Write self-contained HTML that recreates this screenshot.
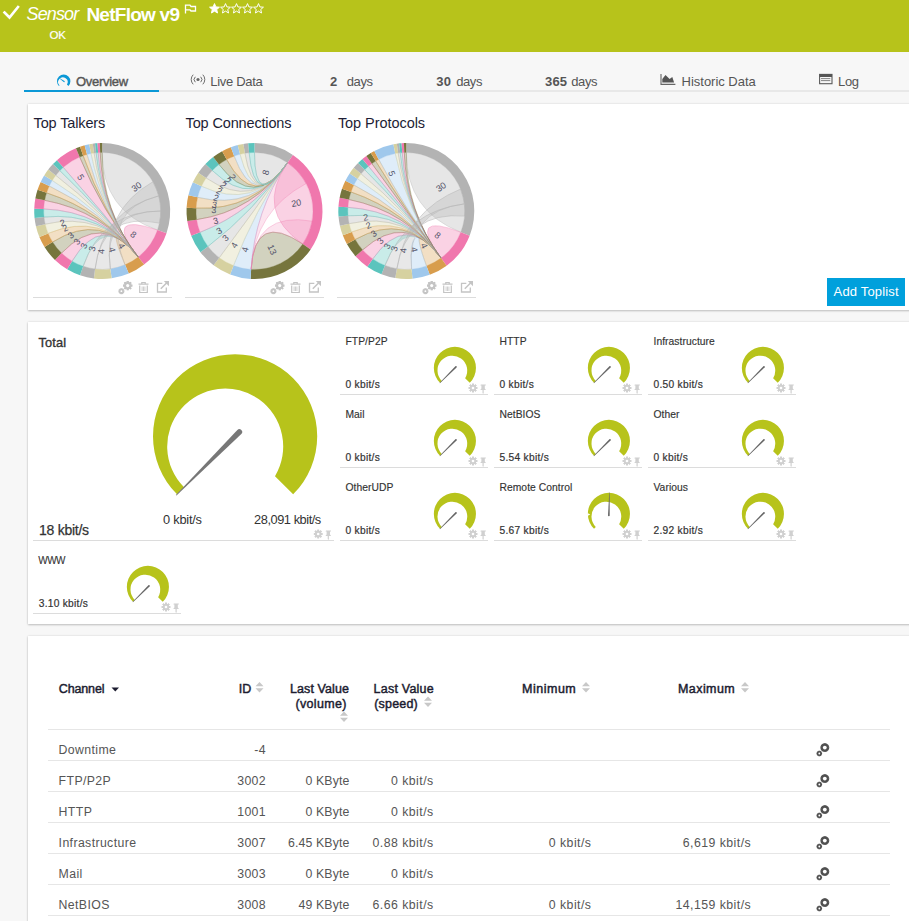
<!DOCTYPE html><html><head><meta charset="utf-8"><style>
html,body{margin:0;padding:0;width:909px;height:921px;overflow:hidden;background:#f7f7f7}
body{position:relative;font-family:"Liberation Sans",sans-serif}
.t{position:absolute;white-space:nowrap;line-height:1}
</style></head><body>
<div style="position:absolute;left:0px;top:0px;width:909px;height:52px;background:#b7c31b"></div>
<svg style="position:absolute;left:0;top:0" width="909" height="51"><path d="M4.5 12.5 L9.5 17.5 L18 7" fill="none" stroke="#fff" stroke-width="2.6" stroke-linecap="square"/></svg>
<div class="t" style="left:26.60px;top:5.46px;font-size:18px;font-weight:400;color:#fff;font-style:italic;letter-spacing:-0.900px;">Sensor</div>
<div class="t" style="left:86.40px;top:5.02px;font-size:19px;font-weight:700;color:#fff;font-style:normal;letter-spacing:-0.744px;">NetFlow v9</div>
<svg style="position:absolute;left:184px;top:4px" width="14" height="10"><path d="M1.5 0.5 V9.5 M1.5 1.2 H6 L7 2.5 H11.5 V7 H7 L6 5.8 H1.5" fill="none" stroke="#fff" stroke-width="1.3"/></svg>
<svg style="position:absolute;left:0;top:0" width="300" height="20"><polygon points="214.50,3.60 213.12,6.91 209.55,7.19 212.27,9.52 211.44,13.01 214.50,11.14 217.56,13.01 216.73,9.52 219.45,7.19 215.88,6.91" fill="#fff" stroke="#fff" stroke-width="1"/><polygon points="225.50,3.60 224.12,6.91 220.55,7.19 223.27,9.52 222.44,13.01 225.50,11.14 228.56,13.01 227.73,9.52 230.45,7.19 226.88,6.91" fill="none" stroke="#fff" stroke-width="1"/><polygon points="236.50,3.60 235.12,6.91 231.55,7.19 234.27,9.52 233.44,13.01 236.50,11.14 239.56,13.01 238.73,9.52 241.45,7.19 237.88,6.91" fill="none" stroke="#fff" stroke-width="1"/><polygon points="247.50,3.60 246.12,6.91 242.55,7.19 245.27,9.52 244.44,13.01 247.50,11.14 250.56,13.01 249.73,9.52 252.45,7.19 248.88,6.91" fill="none" stroke="#fff" stroke-width="1"/><polygon points="258.50,3.60 257.12,6.91 253.55,7.19 256.27,9.52 255.44,13.01 258.50,11.14 261.56,13.01 260.73,9.52 263.45,7.19 259.88,6.91" fill="none" stroke="#fff" stroke-width="1"/></svg>
<div class="t" style="left:49.40px;top:29.77px;font-size:11.5px;font-weight:400;color:#fff;font-style:normal;-webkit-text-stroke:0.2px #fff;">OK</div>
<div style="position:absolute;left:0px;top:52px;width:909px;height:869px;background:#f7f7f7"></div>
<div style="position:absolute;left:24px;top:90px;width:885px;height:2px;background:#e8e8e8"></div>
<div style="position:absolute;left:24px;top:90px;width:135px;height:2px;background:#0b98d6"></div>
<div class="t" style="left:76.00px;top:75.10px;font-size:13px;font-weight:400;color:#555;font-style:normal;letter-spacing:-0.293px;-webkit-text-stroke:0.4px #555;">Overview</div>
<div class="t" style="left:210.30px;top:75.10px;font-size:13px;font-weight:400;color:#555;font-style:normal;letter-spacing:-0.306px;">Live Data</div>
<div class="t" style="left:330.00px;top:75.10px;font-size:13px;font-weight:700;color:#555;font-style:normal;">2</div>
<div class="t" style="left:346.80px;top:75.10px;font-size:13px;font-weight:400;color:#555;font-style:normal;letter-spacing:-0.417px;">days</div>
<div class="t" style="left:436.20px;top:75.10px;font-size:13px;font-weight:700;color:#555;font-style:normal;letter-spacing:0.350px;">30</div>
<div class="t" style="left:456.20px;top:75.10px;font-size:13px;font-weight:400;color:#555;font-style:normal;letter-spacing:-0.417px;">days</div>
<div class="t" style="left:545.00px;top:75.10px;font-size:13px;font-weight:700;color:#555;font-style:normal;letter-spacing:0.150px;">365</div>
<div class="t" style="left:571.30px;top:75.10px;font-size:13px;font-weight:400;color:#555;font-style:normal;letter-spacing:-0.417px;">days</div>
<div class="t" style="left:681.60px;top:75.10px;font-size:13px;font-weight:400;color:#555;font-style:normal;letter-spacing:-0.021px;">Historic Data</div>
<div class="t" style="left:838.00px;top:75.10px;font-size:13px;font-weight:400;color:#555;font-style:normal;letter-spacing:-0.350px;">Log</div>
<svg style="position:absolute;left:0;top:60px" width="909" height="30"><circle cx="198" cy="19.5" r="1.6" fill="#666"/><path d="M195.3 16.8 A3.8 3.8 0 0 0 195.3 22.2 M200.7 16.8 A3.8 3.8 0 0 1 200.7 22.2" fill="none" stroke="#666" stroke-width="0.95"/><path d="M193.2 14.7 A6.8 6.8 0 0 0 193.2 24.3 M202.8 14.7 A6.8 6.8 0 0 1 202.8 24.3" fill="none" stroke="#666" stroke-width="0.95"/><path d="M661 13.9 V24.4 H675.4" fill="none" stroke="#666" stroke-width="1.1"/><path d="M662.3 22.6 V19 L665.5 15.1 L669.6 19 L672.3 17.1 L674.1 22.6 Z" fill="#555"/><rect x="819.6" y="14.4" width="12.4" height="9.3" fill="none" stroke="#5a5a5a" stroke-width="1.1"/><rect x="819.6" y="14" width="12.4" height="3" fill="#555"/><path d="M821 18.6 H830.3 M821 20.6 H830.3" stroke="#777" stroke-width="0.9"/></svg>
<div style="position:absolute;left:28px;top:104px;width:900px;height:206px;background:#fff;box-shadow:0 1px 2px rgba(0,0,0,0.2),0 0 2px rgba(0,0,0,0.12);"></div>
<div style="position:absolute;left:28px;top:322px;width:900px;height:302px;background:#fff;box-shadow:0 1px 2px rgba(0,0,0,0.2),0 0 2px rgba(0,0,0,0.12);"></div>
<div style="position:absolute;left:28px;top:636px;width:900px;height:400px;background:#fff;box-shadow:0 1px 2px rgba(0,0,0,0.2),0 0 2px rgba(0,0,0,0.12);"></div>
<svg style="position:absolute;left:0;top:0" width="909" height="320"><path d="M102.20,152.50 A58.5,58.5 0 0 1 157.51,230.05 Q102.2,211 102.20,152.50Z" fill="#b3b3b3" fill-opacity="0.33" stroke="#b3b3b3" stroke-opacity="0.55" stroke-width="0.6"/><path d="M157.51,230.05 A58.5,58.5 0 0 1 138.22,257.10 Q102.2,211 157.51,230.05Z" fill="#f077ad" fill-opacity="0.33" stroke="#f077ad" stroke-opacity="0.55" stroke-width="0.6"/><path d="M138.22,257.10 A58.5,58.5 0 0 1 125.06,264.85 Q102.2,211 138.22,257.10Z" fill="#d89d4d" fill-opacity="0.33" stroke="#d89d4d" stroke-opacity="0.55" stroke-width="0.6"/><path d="M83.15,266.31 A58.5,58.5 0 0 1 72.07,261.14 Q102.2,211 138.22,257.10 Q102.2,211 83.15,266.31Z" fill="#5bc4bd" fill-opacity="0.33" stroke="#5bc4bd" stroke-opacity="0.55" stroke-width="0.6"/><path d="M72.07,261.14 A58.5,58.5 0 0 1 61.56,253.08 Q102.2,211 138.22,257.10 Q102.2,211 72.07,261.14Z" fill="#f077ad" fill-opacity="0.33" stroke="#f077ad" stroke-opacity="0.55" stroke-width="0.6"/><path d="M61.56,253.08 A58.5,58.5 0 0 1 52.59,242.00 Q102.2,211 138.22,257.10 Q102.2,211 61.56,253.08Z" fill="#76753d" fill-opacity="0.33" stroke="#76753d" stroke-opacity="0.55" stroke-width="0.6"/><path d="M52.59,242.00 A58.5,58.5 0 0 1 48.15,233.39 Q102.2,211 138.22,257.10 Q102.2,211 52.59,242.00Z" fill="#d89d4d" fill-opacity="0.33" stroke="#d89d4d" stroke-opacity="0.55" stroke-width="0.6"/><path d="M48.15,233.39 A58.5,58.5 0 0 1 45.20,224.16 Q102.2,211 138.22,257.10 Q102.2,211 48.15,233.39Z" fill="#d6d1a0" fill-opacity="0.33" stroke="#d6d1a0" stroke-opacity="0.55" stroke-width="0.6"/><path d="M45.20,224.16 A58.5,58.5 0 0 1 44.02,217.11 Q102.2,211 138.22,257.10 Q102.2,211 45.20,224.16Z" fill="#b3b3b3" fill-opacity="0.33" stroke="#b3b3b3" stroke-opacity="0.55" stroke-width="0.6"/><path d="M44.02,217.11 A58.5,58.5 0 0 1 43.74,208.96 Q102.2,211 138.22,257.10 Q102.2,211 44.02,217.11Z" fill="#5bc4bd" fill-opacity="0.33" stroke="#5bc4bd" stroke-opacity="0.55" stroke-width="0.6"/><path d="M43.74,208.96 A58.5,58.5 0 0 1 44.68,200.34 Q102.2,211 138.22,257.10 Q102.2,211 43.74,208.96Z" fill="#f077ad" fill-opacity="0.33" stroke="#f077ad" stroke-opacity="0.55" stroke-width="0.6"/><path d="M44.68,200.34 A58.5,58.5 0 0 1 46.59,192.83 Q102.2,211 138.22,257.10 Q102.2,211 44.68,200.34Z" fill="#76753d" fill-opacity="0.33" stroke="#76753d" stroke-opacity="0.55" stroke-width="0.6"/><path d="M46.59,192.83 A58.5,58.5 0 0 1 49.31,186.00 Q102.2,211 138.22,257.10 Q102.2,211 46.59,192.83Z" fill="#d89d4d" fill-opacity="0.33" stroke="#d89d4d" stroke-opacity="0.55" stroke-width="0.6"/><path d="M49.31,186.00 A58.5,58.5 0 0 1 52.27,180.52 Q102.2,211 138.22,257.10 Q102.2,211 49.31,186.00Z" fill="#9fc8ec" fill-opacity="0.33" stroke="#9fc8ec" stroke-opacity="0.55" stroke-width="0.6"/><path d="M52.27,180.52 A58.5,58.5 0 0 1 55.79,175.39 Q102.2,211 138.22,257.10 Q102.2,211 52.27,180.52Z" fill="#d6d1a0" fill-opacity="0.33" stroke="#d6d1a0" stroke-opacity="0.55" stroke-width="0.6"/><path d="M55.79,175.39 A58.5,58.5 0 0 1 59.84,170.66 Q102.2,211 138.22,257.10 Q102.2,211 55.79,175.39Z" fill="#b3b3b3" fill-opacity="0.33" stroke="#b3b3b3" stroke-opacity="0.55" stroke-width="0.6"/><path d="M59.84,170.66 A58.5,58.5 0 0 1 63.28,167.32 Q102.2,211 138.22,257.10 Q102.2,211 59.84,170.66Z" fill="#5bc4bd" fill-opacity="0.33" stroke="#5bc4bd" stroke-opacity="0.55" stroke-width="0.6"/><path d="M63.28,167.32 A58.5,58.5 0 0 1 79.62,157.03 Q102.2,211 138.22,257.10 Q102.2,211 63.28,167.32Z" fill="#f077ad" fill-opacity="0.33" stroke="#f077ad" stroke-opacity="0.55" stroke-width="0.6"/><path d="M79.62,157.03 A58.5,58.5 0 0 1 83.15,155.69 Q102.2,211 138.22,257.10 Q102.2,211 79.62,157.03Z" fill="#76753d" fill-opacity="0.33" stroke="#76753d" stroke-opacity="0.55" stroke-width="0.6"/><path d="M83.15,155.69 A58.5,58.5 0 0 1 87.06,154.49 Q102.2,211 138.22,257.10 Q102.2,211 83.15,155.69Z" fill="#d89d4d" fill-opacity="0.33" stroke="#d89d4d" stroke-opacity="0.55" stroke-width="0.6"/><path d="M87.06,154.49 A58.5,58.5 0 0 1 91.04,153.57 Q102.2,211 138.22,257.10 Q102.2,211 87.06,154.49Z" fill="#9fc8ec" fill-opacity="0.33" stroke="#9fc8ec" stroke-opacity="0.55" stroke-width="0.6"/><path d="M91.04,153.57 A58.5,58.5 0 0 1 94.06,153.07 Q102.2,211 138.22,257.10 Q102.2,211 91.04,153.57Z" fill="#d6d1a0" fill-opacity="0.33" stroke="#d6d1a0" stroke-opacity="0.55" stroke-width="0.6"/><path d="M94.06,153.07 A58.5,58.5 0 0 1 96.09,152.82 Q102.2,211 138.22,257.10 Q102.2,211 94.06,153.07Z" fill="#b3b3b3" fill-opacity="0.33" stroke="#b3b3b3" stroke-opacity="0.55" stroke-width="0.6"/><path d="M96.09,152.82 A58.5,58.5 0 0 1 98.12,152.64 Q102.2,211 138.22,257.10 Q102.2,211 96.09,152.82Z" fill="#5bc4bd" fill-opacity="0.33" stroke="#5bc4bd" stroke-opacity="0.55" stroke-width="0.6"/><path d="M98.12,152.64 A58.5,58.5 0 0 1 100.16,152.54 Q102.2,211 138.22,257.10 Q102.2,211 98.12,152.64Z" fill="#f077ad" fill-opacity="0.33" stroke="#f077ad" stroke-opacity="0.55" stroke-width="0.6"/><path d="M100.16,152.54 A58.5,58.5 0 0 1 102.20,152.50 Q102.2,211 138.22,257.10 Q102.2,211 100.16,152.54Z" fill="#76753d" fill-opacity="0.33" stroke="#76753d" stroke-opacity="0.55" stroke-width="0.6"/><path d="M152.86,181.75 A58.5,58.5 0 0 1 158.71,195.86 Q102.2,211 125.06,264.85 A58.5,58.5 0 0 1 110.34,268.93 Q102.2,211 152.86,181.75Z" fill="#b3b3b3" fill-opacity="0.3" stroke="#b3b3b3" stroke-opacity="0.8" stroke-width="0.6"/><path d="M158.71,195.86 A58.5,58.5 0 0 1 160.70,211.00 Q102.2,211 110.34,268.93 A58.5,58.5 0 0 1 95.07,269.06 Q102.2,211 158.71,195.86Z" fill="#b3b3b3" fill-opacity="0.3" stroke="#b3b3b3" stroke-opacity="0.8" stroke-width="0.6"/><path d="M160.70,211.00 A58.5,58.5 0 0 1 159.42,223.16 Q102.2,211 95.07,269.06 A58.5,58.5 0 0 1 83.15,266.31 Q102.2,211 160.70,211.00Z" fill="#b3b3b3" fill-opacity="0.3" stroke="#b3b3b3" stroke-opacity="0.8" stroke-width="0.6"/><path d="M102.20,143.00 A68,68 0 0 1 166.50,233.14 L157.51,230.05 A58.5,58.5 0 0 0 102.20,152.50Z" fill="#b3b3b3"/><path d="M166.50,233.14 A68,68 0 0 1 144.06,264.58 L138.22,257.10 A58.5,58.5 0 0 0 157.51,230.05Z" fill="#f077ad"/><path d="M144.06,264.58 A68,68 0 0 1 128.77,273.59 L125.06,264.85 A58.5,58.5 0 0 0 138.22,257.10Z" fill="#d89d4d"/><path d="M128.77,273.59 A68,68 0 0 1 111.66,278.34 L110.34,268.93 A58.5,58.5 0 0 0 125.06,264.85Z" fill="#9fc8ec"/><path d="M111.66,278.34 A68,68 0 0 1 93.91,278.49 L95.07,269.06 A58.5,58.5 0 0 0 110.34,268.93Z" fill="#d6d1a0"/><path d="M93.91,278.49 A68,68 0 0 1 80.06,275.30 L83.15,266.31 A58.5,58.5 0 0 0 95.07,269.06Z" fill="#b3b3b3"/><path d="M80.06,275.30 A68,68 0 0 1 67.18,269.29 L72.07,261.14 A58.5,58.5 0 0 0 83.15,266.31Z" fill="#5bc4bd"/><path d="M67.18,269.29 A68,68 0 0 1 54.96,259.92 L61.56,253.08 A58.5,58.5 0 0 0 72.07,261.14Z" fill="#f077ad"/><path d="M54.96,259.92 A68,68 0 0 1 44.53,247.03 L52.59,242.00 A58.5,58.5 0 0 0 61.56,253.08Z" fill="#76753d"/><path d="M44.53,247.03 A68,68 0 0 1 39.38,237.02 L48.15,233.39 A58.5,58.5 0 0 0 52.59,242.00Z" fill="#d89d4d"/><path d="M39.38,237.02 A68,68 0 0 1 35.94,226.30 L45.20,224.16 A58.5,58.5 0 0 0 48.15,233.39Z" fill="#d6d1a0"/><path d="M35.94,226.30 A68,68 0 0 1 34.57,218.11 L44.02,217.11 A58.5,58.5 0 0 0 45.20,224.16Z" fill="#b3b3b3"/><path d="M34.57,218.11 A68,68 0 0 1 34.24,208.63 L43.74,208.96 A58.5,58.5 0 0 0 44.02,217.11Z" fill="#5bc4bd"/><path d="M34.24,208.63 A68,68 0 0 1 35.34,198.61 L44.68,200.34 A58.5,58.5 0 0 0 43.74,208.96Z" fill="#f077ad"/><path d="M35.34,198.61 A68,68 0 0 1 37.56,189.87 L46.59,192.83 A58.5,58.5 0 0 0 44.68,200.34Z" fill="#76753d"/><path d="M37.56,189.87 A68,68 0 0 1 40.72,181.94 L49.31,186.00 A58.5,58.5 0 0 0 46.59,192.83Z" fill="#d89d4d"/><path d="M40.72,181.94 A68,68 0 0 1 44.16,175.57 L52.27,180.52 A58.5,58.5 0 0 0 49.31,186.00Z" fill="#9fc8ec"/><path d="M44.16,175.57 A68,68 0 0 1 48.25,169.60 L55.79,175.39 A58.5,58.5 0 0 0 52.27,180.52Z" fill="#d6d1a0"/><path d="M48.25,169.60 A68,68 0 0 1 52.96,164.11 L59.84,170.66 A58.5,58.5 0 0 0 55.79,175.39Z" fill="#b3b3b3"/><path d="M52.96,164.11 A68,68 0 0 1 56.96,160.23 L63.28,167.32 A58.5,58.5 0 0 0 59.84,170.66Z" fill="#5bc4bd"/><path d="M56.96,160.23 A68,68 0 0 1 75.96,148.27 L79.62,157.03 A58.5,58.5 0 0 0 63.28,167.32Z" fill="#f077ad"/><path d="M75.96,148.27 A68,68 0 0 1 80.06,146.70 L83.15,155.69 A58.5,58.5 0 0 0 79.62,157.03Z" fill="#76753d"/><path d="M80.06,146.70 A68,68 0 0 1 84.60,145.32 L87.06,154.49 A58.5,58.5 0 0 0 83.15,155.69Z" fill="#d89d4d"/><path d="M84.60,145.32 A68,68 0 0 1 89.22,144.25 L91.04,153.57 A58.5,58.5 0 0 0 87.06,154.49Z" fill="#9fc8ec"/><path d="M89.22,144.25 A68,68 0 0 1 92.74,143.66 L94.06,153.07 A58.5,58.5 0 0 0 91.04,153.57Z" fill="#d6d1a0"/><path d="M92.74,143.66 A68,68 0 0 1 95.09,143.37 L96.09,152.82 A58.5,58.5 0 0 0 94.06,153.07Z" fill="#b3b3b3"/><path d="M95.09,143.37 A68,68 0 0 1 97.46,143.17 L98.12,152.64 A58.5,58.5 0 0 0 96.09,152.82Z" fill="#5bc4bd"/><path d="M97.46,143.17 A68,68 0 0 1 99.83,143.04 L100.16,152.54 A58.5,58.5 0 0 0 98.12,152.64Z" fill="#f077ad"/><path d="M99.83,143.04 A68,68 0 0 1 102.20,143.00 L102.20,152.50 A58.5,58.5 0 0 0 100.16,152.54Z" fill="#76753d"/><text x="136.6" y="186.9" transform="rotate(-35.0 136.6 186.9)" font-size="9" fill="#55556a" text-anchor="middle" dominant-baseline="central">30</text><text x="133.3" y="234.5" transform="rotate(37.0 133.3 234.5)" font-size="9" fill="#55556a" text-anchor="middle" dominant-baseline="central">8</text><text x="121.7" y="245.9" transform="rotate(60.8 121.7 245.9)" font-size="9" fill="#55556a" text-anchor="middle" dominant-baseline="central">4</text><text x="111.9" y="249.8" transform="rotate(76.0 111.9 249.8)" font-size="9" fill="#55556a" text-anchor="middle" dominant-baseline="central">4</text><text x="101.2" y="251.5" transform="rotate(271.4 101.2 251.5)" font-size="9" fill="#55556a" text-anchor="middle" dominant-baseline="central">4</text><text x="92.2" y="248.7" transform="rotate(284.8 92.2 248.7)" font-size="9" fill="#55556a" text-anchor="middle" dominant-baseline="central">3</text><text x="84.1" y="246.0" transform="rotate(297.3 84.1 246.0)" font-size="9" fill="#55556a" text-anchor="middle" dominant-baseline="central">3</text><text x="77.0" y="241.6" transform="rotate(309.5 77.0 241.6)" font-size="9" fill="#55556a" text-anchor="middle" dominant-baseline="central">3</text><text x="70.8" y="235.4" transform="rotate(322.2 70.8 235.4)" font-size="9" fill="#55556a" text-anchor="middle" dominant-baseline="central">3</text><text x="65.3" y="228.2" transform="rotate(335.0 65.3 228.2)" font-size="9" fill="#55556a" text-anchor="middle" dominant-baseline="central">2</text><text x="62.6" y="222.8" transform="rotate(343.4 62.6 222.8)" font-size="9" fill="#55556a" text-anchor="middle" dominant-baseline="central">2</text><text x="80.7" y="177.3" transform="rotate(417.5 80.7 177.3)" font-size="9" fill="#55556a" text-anchor="middle" dominant-baseline="central">5</text><path d="M254.50,152.50 A58.5,58.5 0 0 1 287.55,162.73 Q254.5,211 254.50,152.50Z" fill="#b3b3b3" fill-opacity="0.33" stroke="#b3b3b3" stroke-opacity="0.55" stroke-width="0.6"/><path d="M287.55,162.73 A58.5,58.5 0 0 1 302.77,244.05 Q254.5,211 287.55,162.73Z" fill="#f077ad" fill-opacity="0.33" stroke="#f077ad" stroke-opacity="0.55" stroke-width="0.6"/><path d="M302.77,244.05 A58.5,58.5 0 0 1 251.13,269.40 Q254.5,211 302.77,244.05Z" fill="#76753d" fill-opacity="0.33" stroke="#76753d" stroke-opacity="0.55" stroke-width="0.6"/><path d="M251.13,269.40 A58.5,58.5 0 0 1 233.54,265.61 Q254.5,211 287.55,162.73 Q254.5,211 251.13,269.40Z" fill="#9fc8ec" fill-opacity="0.33" stroke="#9fc8ec" stroke-opacity="0.55" stroke-width="0.6"/><path d="M233.54,265.61 A58.5,58.5 0 0 1 219.29,257.72 Q254.5,211 287.55,162.73 Q254.5,211 233.54,265.61Z" fill="#d6d1a0" fill-opacity="0.33" stroke="#d6d1a0" stroke-opacity="0.55" stroke-width="0.6"/><path d="M219.29,257.72 A58.5,58.5 0 0 1 207.96,246.45 Q254.5,211 287.55,162.73 Q254.5,211 219.29,257.72Z" fill="#b3b3b3" fill-opacity="0.33" stroke="#b3b3b3" stroke-opacity="0.55" stroke-width="0.6"/><path d="M207.96,246.45 A58.5,58.5 0 0 1 200.03,232.35 Q254.5,211 287.55,162.73 Q254.5,211 207.96,246.45Z" fill="#5bc4bd" fill-opacity="0.33" stroke="#5bc4bd" stroke-opacity="0.55" stroke-width="0.6"/><path d="M200.03,232.35 A58.5,58.5 0 0 1 196.64,219.65 Q254.5,211 287.55,162.73 Q254.5,211 200.03,232.35Z" fill="#f077ad" fill-opacity="0.33" stroke="#f077ad" stroke-opacity="0.55" stroke-width="0.6"/><path d="M196.64,219.65 A58.5,58.5 0 0 1 196.07,208.14 Q254.5,211 287.55,162.73 Q254.5,211 196.64,219.65Z" fill="#76753d" fill-opacity="0.33" stroke="#76753d" stroke-opacity="0.55" stroke-width="0.6"/><path d="M196.07,208.14 A58.5,58.5 0 0 1 197.62,197.34 Q254.5,211 287.55,162.73 Q254.5,211 196.07,208.14Z" fill="#d89d4d" fill-opacity="0.33" stroke="#d89d4d" stroke-opacity="0.55" stroke-width="0.6"/><path d="M197.62,197.34 A58.5,58.5 0 0 1 201.48,186.28 Q254.5,211 287.55,162.73 Q254.5,211 197.62,197.34Z" fill="#9fc8ec" fill-opacity="0.33" stroke="#9fc8ec" stroke-opacity="0.55" stroke-width="0.6"/><path d="M201.48,186.28 A58.5,58.5 0 0 1 206.17,178.03 Q254.5,211 287.55,162.73 Q254.5,211 201.48,186.28Z" fill="#d6d1a0" fill-opacity="0.33" stroke="#d6d1a0" stroke-opacity="0.55" stroke-width="0.6"/><path d="M206.17,178.03 A58.5,58.5 0 0 1 212.28,170.51 Q254.5,211 287.55,162.73 Q254.5,211 206.17,178.03Z" fill="#b3b3b3" fill-opacity="0.33" stroke="#b3b3b3" stroke-opacity="0.55" stroke-width="0.6"/><path d="M212.28,170.51 A58.5,58.5 0 0 1 218.97,164.53 Q254.5,211 287.55,162.73 Q254.5,211 212.28,170.51Z" fill="#5bc4bd" fill-opacity="0.33" stroke="#5bc4bd" stroke-opacity="0.55" stroke-width="0.6"/><path d="M218.97,164.53 A58.5,58.5 0 0 1 226.68,159.54 Q254.5,211 287.55,162.73 Q254.5,211 218.97,164.53Z" fill="#76753d" fill-opacity="0.33" stroke="#76753d" stroke-opacity="0.55" stroke-width="0.6"/><path d="M226.68,159.54 A58.5,58.5 0 0 1 234.20,156.13 Q254.5,211 287.55,162.73 Q254.5,211 226.68,159.54Z" fill="#d89d4d" fill-opacity="0.33" stroke="#d89d4d" stroke-opacity="0.55" stroke-width="0.6"/><path d="M234.20,156.13 A58.5,58.5 0 0 1 240.05,154.31 Q254.5,211 287.55,162.73 Q254.5,211 234.20,156.13Z" fill="#9fc8ec" fill-opacity="0.33" stroke="#9fc8ec" stroke-opacity="0.55" stroke-width="0.6"/><path d="M240.05,154.31 A58.5,58.5 0 0 1 244.95,153.29 Q254.5,211 287.55,162.73 Q254.5,211 240.05,154.31Z" fill="#d6d1a0" fill-opacity="0.33" stroke="#d6d1a0" stroke-opacity="0.55" stroke-width="0.6"/><path d="M244.95,153.29 A58.5,58.5 0 0 1 249.10,152.75 Q254.5,211 287.55,162.73 Q254.5,211 244.95,153.29Z" fill="#b3b3b3" fill-opacity="0.33" stroke="#b3b3b3" stroke-opacity="0.55" stroke-width="0.6"/><path d="M249.10,152.75 A58.5,58.5 0 0 1 254.50,152.50 Q254.5,211 287.55,162.73 Q254.5,211 249.10,152.75Z" fill="#5bc4bd" fill-opacity="0.33" stroke="#5bc4bd" stroke-opacity="0.55" stroke-width="0.6"/><path d="M287.55,162.73 A58.5,58.5 0 0 1 306.15,183.54 Q254.5,211 251.13,269.40 Q254.5,211 287.55,162.73Z" fill="#f077ad" fill-opacity="0.2" stroke="#f077ad" stroke-opacity="0.55" stroke-width="0.6"/><path d="M312.11,221.16 A58.5,58.5 0 0 1 302.77,244.05 Q254.5,211 251.13,269.40 Q254.5,211 312.11,221.16Z" fill="#f077ad" fill-opacity="0.2" stroke="#f077ad" stroke-opacity="0.55" stroke-width="0.6"/><path d="M254.50,143.00 A68,68 0 0 1 292.92,154.89 L287.55,162.73 A58.5,58.5 0 0 0 254.50,152.50Z" fill="#b3b3b3"/><path d="M292.92,154.89 A68,68 0 0 1 310.61,249.42 L302.77,244.05 A58.5,58.5 0 0 0 287.55,162.73Z" fill="#f077ad"/><path d="M310.61,249.42 A68,68 0 0 1 250.59,278.89 L251.13,269.40 A58.5,58.5 0 0 0 302.77,244.05Z" fill="#76753d"/><path d="M250.59,278.89 A68,68 0 0 1 230.13,274.48 L233.54,265.61 A58.5,58.5 0 0 0 251.13,269.40Z" fill="#9fc8ec"/><path d="M230.13,274.48 A68,68 0 0 1 213.58,265.31 L219.29,257.72 A58.5,58.5 0 0 0 233.54,265.61Z" fill="#d6d1a0"/><path d="M213.58,265.31 A68,68 0 0 1 200.41,252.21 L207.96,246.45 A58.5,58.5 0 0 0 219.29,257.72Z" fill="#b3b3b3"/><path d="M200.41,252.21 A68,68 0 0 1 191.19,235.81 L200.03,232.35 A58.5,58.5 0 0 0 207.96,246.45Z" fill="#5bc4bd"/><path d="M191.19,235.81 A68,68 0 0 1 187.25,221.05 L196.64,219.65 A58.5,58.5 0 0 0 200.03,232.35Z" fill="#f077ad"/><path d="M187.25,221.05 A68,68 0 0 1 186.58,207.68 L196.07,208.14 A58.5,58.5 0 0 0 196.64,219.65Z" fill="#76753d"/><path d="M186.58,207.68 A68,68 0 0 1 188.38,195.13 L197.62,197.34 A58.5,58.5 0 0 0 196.07,208.14Z" fill="#d89d4d"/><path d="M188.38,195.13 A68,68 0 0 1 192.87,182.26 L201.48,186.28 A58.5,58.5 0 0 0 197.62,197.34Z" fill="#9fc8ec"/><path d="M192.87,182.26 A68,68 0 0 1 198.33,172.68 L206.17,178.03 A58.5,58.5 0 0 0 201.48,186.28Z" fill="#d6d1a0"/><path d="M198.33,172.68 A68,68 0 0 1 205.42,163.93 L212.28,170.51 A58.5,58.5 0 0 0 206.17,178.03Z" fill="#b3b3b3"/><path d="M205.42,163.93 A68,68 0 0 1 213.20,156.98 L218.97,164.53 A58.5,58.5 0 0 0 212.28,170.51Z" fill="#5bc4bd"/><path d="M213.20,156.98 A68,68 0 0 1 222.16,151.18 L226.68,159.54 A58.5,58.5 0 0 0 218.97,164.53Z" fill="#76753d"/><path d="M222.16,151.18 A68,68 0 0 1 230.91,147.22 L234.20,156.13 A58.5,58.5 0 0 0 226.68,159.54Z" fill="#d89d4d"/><path d="M230.91,147.22 A68,68 0 0 1 237.70,145.11 L240.05,154.31 A58.5,58.5 0 0 0 234.20,156.13Z" fill="#9fc8ec"/><path d="M237.70,145.11 A68,68 0 0 1 243.39,143.91 L244.95,153.29 A58.5,58.5 0 0 0 240.05,154.31Z" fill="#d6d1a0"/><path d="M243.39,143.91 A68,68 0 0 1 248.22,143.29 L249.10,152.75 A58.5,58.5 0 0 0 244.95,153.29Z" fill="#b3b3b3"/><path d="M248.22,143.29 A68,68 0 0 1 254.50,143.00 L254.50,152.50 A58.5,58.5 0 0 0 249.10,152.75Z" fill="#5bc4bd"/><text x="265.8" y="172.6" transform="rotate(-73.6 265.8 172.6)" font-size="9" fill="#55556a" text-anchor="middle" dominant-baseline="central">8</text><text x="296.3" y="203.1" transform="rotate(-10.7 296.3 203.1)" font-size="9" fill="#55556a" text-anchor="middle" dominant-baseline="central">20</text><text x="272.1" y="249.7" transform="rotate(65.5 272.1 249.7)" font-size="9" fill="#55556a" text-anchor="middle" dominant-baseline="central">13</text><text x="245.2" y="249.7" transform="rotate(283.5 245.2 249.7)" font-size="9" fill="#55556a" text-anchor="middle" dominant-baseline="central">4</text><text x="234.5" y="245.2" transform="rotate(300.3 234.5 245.2)" font-size="9" fill="#55556a" text-anchor="middle" dominant-baseline="central">4</text><text x="225.5" y="238.0" transform="rotate(317.0 225.5 238.0)" font-size="9" fill="#55556a" text-anchor="middle" dominant-baseline="central">3</text><text x="219.2" y="230.9" transform="rotate(330.6 219.2 230.9)" font-size="9" fill="#55556a" text-anchor="middle" dominant-baseline="central">3</text><text x="215.6" y="221.0" transform="rotate(345.6 215.6 221.0)" font-size="9" fill="#55556a" text-anchor="middle" dominant-baseline="central">3</text><text x="213.8" y="210.0" transform="rotate(361.4 213.8 210.0)" font-size="9" fill="#55556a" text-anchor="middle" dominant-baseline="central">3</text><text x="214.5" y="204.9" transform="rotate(368.7 214.5 204.9)" font-size="9" fill="#55556a" text-anchor="middle" dominant-baseline="central">3</text><text x="216.2" y="197.9" transform="rotate(378.9 216.2 197.9)" font-size="9" fill="#55556a" text-anchor="middle" dominant-baseline="central">2</text><text x="219.2" y="191.1" transform="rotate(389.4 219.2 191.1)" font-size="9" fill="#55556a" text-anchor="middle" dominant-baseline="central">2</text><text x="223.2" y="185.3" transform="rotate(399.3 223.2 185.3)" font-size="9" fill="#55556a" text-anchor="middle" dominant-baseline="central">2</text><text x="227.4" y="180.9" transform="rotate(408.0 227.4 180.9)" font-size="9" fill="#55556a" text-anchor="middle" dominant-baseline="central">2</text><text x="232.4" y="177.1" transform="rotate(416.9 232.4 177.1)" font-size="9" fill="#55556a" text-anchor="middle" dominant-baseline="central">2</text><path d="M406.30,152.50 A58.5,58.5 0 0 1 460.80,232.25 Q406.3,211 406.30,152.50Z" fill="#b3b3b3" fill-opacity="0.33" stroke="#b3b3b3" stroke-opacity="0.55" stroke-width="0.6"/><path d="M460.80,232.25 A58.5,58.5 0 0 1 441.02,258.09 Q406.3,211 460.80,232.25Z" fill="#f077ad" fill-opacity="0.33" stroke="#f077ad" stroke-opacity="0.55" stroke-width="0.6"/><path d="M441.02,258.09 A58.5,58.5 0 0 1 426.50,265.90 Q406.3,211 441.02,258.09Z" fill="#d89d4d" fill-opacity="0.33" stroke="#d89d4d" stroke-opacity="0.55" stroke-width="0.6"/><path d="M426.50,265.90 A58.5,58.5 0 0 1 411.60,269.26 Q406.3,211 441.02,258.09 Q406.3,211 426.50,265.90Z" fill="#9fc8ec" fill-opacity="0.33" stroke="#9fc8ec" stroke-opacity="0.55" stroke-width="0.6"/><path d="M384.95,265.47 A58.5,58.5 0 0 1 372.75,258.92 Q406.3,211 441.02,258.09 Q406.3,211 384.95,265.47Z" fill="#5bc4bd" fill-opacity="0.33" stroke="#5bc4bd" stroke-opacity="0.55" stroke-width="0.6"/><path d="M372.75,258.92 A58.5,58.5 0 0 1 362.62,249.92 Q406.3,211 441.02,258.09 Q406.3,211 372.75,258.92Z" fill="#f077ad" fill-opacity="0.33" stroke="#f077ad" stroke-opacity="0.55" stroke-width="0.6"/><path d="M362.62,249.92 A58.5,58.5 0 0 1 355.18,239.45 Q406.3,211 441.02,258.09 Q406.3,211 362.62,249.92Z" fill="#76753d" fill-opacity="0.33" stroke="#76753d" stroke-opacity="0.55" stroke-width="0.6"/><path d="M355.18,239.45 A58.5,58.5 0 0 1 351.69,231.96 Q406.3,211 441.02,258.09 Q406.3,211 355.18,239.45Z" fill="#d89d4d" fill-opacity="0.33" stroke="#d89d4d" stroke-opacity="0.55" stroke-width="0.6"/><path d="M351.69,231.96 A58.5,58.5 0 0 1 349.19,223.66 Q406.3,211 441.02,258.09 Q406.3,211 351.69,231.96Z" fill="#d6d1a0" fill-opacity="0.33" stroke="#d6d1a0" stroke-opacity="0.55" stroke-width="0.6"/><path d="M349.19,223.66 A58.5,58.5 0 0 1 348.00,215.79 Q406.3,211 441.02,258.09 Q406.3,211 349.19,223.66Z" fill="#b3b3b3" fill-opacity="0.33" stroke="#b3b3b3" stroke-opacity="0.55" stroke-width="0.6"/><path d="M348.00,215.79 A58.5,58.5 0 0 1 347.92,207.33 Q406.3,211 441.02,258.09 Q406.3,211 348.00,215.79Z" fill="#5bc4bd" fill-opacity="0.33" stroke="#5bc4bd" stroke-opacity="0.55" stroke-width="0.6"/><path d="M347.92,207.33 A58.5,58.5 0 0 1 348.93,199.54 Q406.3,211 441.02,258.09 Q406.3,211 347.92,207.33Z" fill="#f077ad" fill-opacity="0.33" stroke="#f077ad" stroke-opacity="0.55" stroke-width="0.6"/><path d="M348.93,199.54 A58.5,58.5 0 0 1 350.99,191.95 Q406.3,211 441.02,258.09 Q406.3,211 348.93,199.54Z" fill="#76753d" fill-opacity="0.33" stroke="#76753d" stroke-opacity="0.55" stroke-width="0.6"/><path d="M350.99,191.95 A58.5,58.5 0 0 1 353.90,184.99 Q406.3,211 441.02,258.09 Q406.3,211 350.99,191.95Z" fill="#d89d4d" fill-opacity="0.33" stroke="#d89d4d" stroke-opacity="0.55" stroke-width="0.6"/><path d="M353.90,184.99 A58.5,58.5 0 0 1 357.52,178.71 Q406.3,211 441.02,258.09 Q406.3,211 353.90,184.99Z" fill="#9fc8ec" fill-opacity="0.33" stroke="#9fc8ec" stroke-opacity="0.55" stroke-width="0.6"/><path d="M357.52,178.71 A58.5,58.5 0 0 1 361.10,173.87 Q406.3,211 441.02,258.09 Q406.3,211 357.52,178.71Z" fill="#d6d1a0" fill-opacity="0.33" stroke="#d6d1a0" stroke-opacity="0.55" stroke-width="0.6"/><path d="M361.10,173.87 A58.5,58.5 0 0 1 364.79,169.78 Q406.3,211 441.02,258.09 Q406.3,211 361.10,173.87Z" fill="#b3b3b3" fill-opacity="0.33" stroke="#b3b3b3" stroke-opacity="0.55" stroke-width="0.6"/><path d="M364.79,169.78 A58.5,58.5 0 0 1 368.54,166.32 Q406.3,211 441.02,258.09 Q406.3,211 364.79,169.78Z" fill="#5bc4bd" fill-opacity="0.33" stroke="#5bc4bd" stroke-opacity="0.55" stroke-width="0.6"/><path d="M368.54,166.32 A58.5,58.5 0 0 1 371.91,163.67 Q406.3,211 441.02,258.09 Q406.3,211 368.54,166.32Z" fill="#f077ad" fill-opacity="0.33" stroke="#f077ad" stroke-opacity="0.55" stroke-width="0.6"/><path d="M371.91,163.67 A58.5,58.5 0 0 1 375.73,161.12 Q406.3,211 441.02,258.09 Q406.3,211 371.91,163.67Z" fill="#76753d" fill-opacity="0.33" stroke="#76753d" stroke-opacity="0.55" stroke-width="0.6"/><path d="M375.73,161.12 A58.5,58.5 0 0 1 378.75,159.40 Q406.3,211 441.02,258.09 Q406.3,211 375.73,161.12Z" fill="#d89d4d" fill-opacity="0.33" stroke="#d89d4d" stroke-opacity="0.55" stroke-width="0.6"/><path d="M378.75,159.40 A58.5,58.5 0 0 1 395.24,153.56 Q406.3,211 441.02,258.09 Q406.3,211 378.75,159.40Z" fill="#9fc8ec" fill-opacity="0.33" stroke="#9fc8ec" stroke-opacity="0.55" stroke-width="0.6"/><path d="M395.24,153.56 A58.5,58.5 0 0 1 398.16,153.07 Q406.3,211 441.02,258.09 Q406.3,211 395.24,153.56Z" fill="#d6d1a0" fill-opacity="0.33" stroke="#d6d1a0" stroke-opacity="0.55" stroke-width="0.6"/><path d="M398.16,153.07 A58.5,58.5 0 0 1 400.19,152.82 Q406.3,211 441.02,258.09 Q406.3,211 398.16,153.07Z" fill="#b3b3b3" fill-opacity="0.33" stroke="#b3b3b3" stroke-opacity="0.55" stroke-width="0.6"/><path d="M400.19,152.82 A58.5,58.5 0 0 1 402.22,152.64 Q406.3,211 441.02,258.09 Q406.3,211 400.19,152.82Z" fill="#5bc4bd" fill-opacity="0.33" stroke="#5bc4bd" stroke-opacity="0.55" stroke-width="0.6"/><path d="M402.22,152.64 A58.5,58.5 0 0 1 404.26,152.54 Q406.3,211 441.02,258.09 Q406.3,211 402.22,152.64Z" fill="#f077ad" fill-opacity="0.33" stroke="#f077ad" stroke-opacity="0.55" stroke-width="0.6"/><path d="M404.26,152.54 A58.5,58.5 0 0 1 406.30,152.50 Q406.3,211 441.02,258.09 Q406.3,211 404.26,152.54Z" fill="#76753d" fill-opacity="0.33" stroke="#76753d" stroke-opacity="0.55" stroke-width="0.6"/><path d="M460.54,189.09 A58.5,58.5 0 0 1 464.36,203.87 Q406.3,211 411.60,269.26 A58.5,58.5 0 0 1 396.85,268.73 Q406.3,211 460.54,189.09Z" fill="#b3b3b3" fill-opacity="0.3" stroke="#b3b3b3" stroke-opacity="0.8" stroke-width="0.6"/><path d="M464.36,203.87 A58.5,58.5 0 0 1 464.58,216.10 Q406.3,211 396.85,268.73 A58.5,58.5 0 0 1 384.95,265.47 Q406.3,211 464.36,203.87Z" fill="#b3b3b3" fill-opacity="0.3" stroke="#b3b3b3" stroke-opacity="0.8" stroke-width="0.6"/><path d="M406.30,143.00 A68,68 0 0 1 469.66,235.70 L460.80,232.25 A58.5,58.5 0 0 0 406.30,152.50Z" fill="#b3b3b3"/><path d="M469.66,235.70 A68,68 0 0 1 446.65,265.73 L441.02,258.09 A58.5,58.5 0 0 0 460.80,232.25Z" fill="#f077ad"/><path d="M446.65,265.73 A68,68 0 0 1 429.78,274.82 L426.50,265.90 A58.5,58.5 0 0 0 441.02,258.09Z" fill="#d89d4d"/><path d="M429.78,274.82 A68,68 0 0 1 412.46,278.72 L411.60,269.26 A58.5,58.5 0 0 0 426.50,265.90Z" fill="#9fc8ec"/><path d="M412.46,278.72 A68,68 0 0 1 395.31,278.11 L396.85,268.73 A58.5,58.5 0 0 0 411.60,269.26Z" fill="#d6d1a0"/><path d="M395.31,278.11 A68,68 0 0 1 381.49,274.31 L384.95,265.47 A58.5,58.5 0 0 0 396.85,268.73Z" fill="#b3b3b3"/><path d="M381.49,274.31 A68,68 0 0 1 367.30,266.70 L372.75,258.92 A58.5,58.5 0 0 0 384.95,265.47Z" fill="#5bc4bd"/><path d="M367.30,266.70 A68,68 0 0 1 355.53,256.24 L362.62,249.92 A58.5,58.5 0 0 0 372.75,258.92Z" fill="#f077ad"/><path d="M355.53,256.24 A68,68 0 0 1 346.88,244.07 L355.18,239.45 A58.5,58.5 0 0 0 362.62,249.92Z" fill="#76753d"/><path d="M346.88,244.07 A68,68 0 0 1 342.82,235.37 L351.69,231.96 A58.5,58.5 0 0 0 355.18,239.45Z" fill="#d89d4d"/><path d="M342.82,235.37 A68,68 0 0 1 339.91,225.72 L349.19,223.66 A58.5,58.5 0 0 0 351.69,231.96Z" fill="#d6d1a0"/><path d="M339.91,225.72 A68,68 0 0 1 338.53,216.57 L348.00,215.79 A58.5,58.5 0 0 0 349.19,223.66Z" fill="#b3b3b3"/><path d="M338.53,216.57 A68,68 0 0 1 338.43,206.73 L347.92,207.33 A58.5,58.5 0 0 0 348.00,215.79Z" fill="#5bc4bd"/><path d="M338.43,206.73 A68,68 0 0 1 339.62,197.68 L348.93,199.54 A58.5,58.5 0 0 0 347.92,207.33Z" fill="#f077ad"/><path d="M339.62,197.68 A68,68 0 0 1 342.00,188.86 L350.99,191.95 A58.5,58.5 0 0 0 348.93,199.54Z" fill="#76753d"/><path d="M342.00,188.86 A68,68 0 0 1 345.39,180.76 L353.90,184.99 A58.5,58.5 0 0 0 350.99,191.95Z" fill="#d89d4d"/><path d="M345.39,180.76 A68,68 0 0 1 349.60,173.47 L357.52,178.71 A58.5,58.5 0 0 0 353.90,184.99Z" fill="#9fc8ec"/><path d="M349.60,173.47 A68,68 0 0 1 353.75,167.84 L361.10,173.87 A58.5,58.5 0 0 0 357.52,178.71Z" fill="#d6d1a0"/><path d="M353.75,167.84 A68,68 0 0 1 358.05,163.08 L364.79,169.78 A58.5,58.5 0 0 0 361.10,173.87Z" fill="#b3b3b3"/><path d="M358.05,163.08 A68,68 0 0 1 362.41,159.06 L368.54,166.32 A58.5,58.5 0 0 0 364.79,169.78Z" fill="#5bc4bd"/><path d="M362.41,159.06 A68,68 0 0 1 366.33,155.99 L371.91,163.67 A58.5,58.5 0 0 0 368.54,166.32Z" fill="#f077ad"/><path d="M366.33,155.99 A68,68 0 0 1 370.77,153.02 L375.73,161.12 A58.5,58.5 0 0 0 371.91,163.67Z" fill="#76753d"/><path d="M370.77,153.02 A68,68 0 0 1 374.27,151.02 L378.75,159.40 A58.5,58.5 0 0 0 375.73,161.12Z" fill="#d89d4d"/><path d="M374.27,151.02 A68,68 0 0 1 393.44,144.23 L395.24,153.56 A58.5,58.5 0 0 0 378.75,159.40Z" fill="#9fc8ec"/><path d="M393.44,144.23 A68,68 0 0 1 396.84,143.66 L398.16,153.07 A58.5,58.5 0 0 0 395.24,153.56Z" fill="#d6d1a0"/><path d="M396.84,143.66 A68,68 0 0 1 399.19,143.37 L400.19,152.82 A58.5,58.5 0 0 0 398.16,153.07Z" fill="#b3b3b3"/><path d="M399.19,143.37 A68,68 0 0 1 401.56,143.17 L402.22,152.64 A58.5,58.5 0 0 0 400.19,152.82Z" fill="#5bc4bd"/><path d="M401.56,143.17 A68,68 0 0 1 403.93,143.04 L404.26,152.54 A58.5,58.5 0 0 0 402.22,152.64Z" fill="#f077ad"/><path d="M403.93,143.04 A68,68 0 0 1 406.30,143.00 L406.30,152.50 A58.5,58.5 0 0 0 404.26,152.54Z" fill="#76753d"/><text x="441.1" y="187.0" transform="rotate(-34.6 441.1 187.0)" font-size="9" fill="#55556a" text-anchor="middle" dominant-baseline="central">30</text><text x="437.6" y="235.4" transform="rotate(38.0 437.6 235.4)" font-size="9" fill="#55556a" text-anchor="middle" dominant-baseline="central">8</text><text x="424.1" y="246.0" transform="rotate(63.0 424.1 246.0)" font-size="9" fill="#55556a" text-anchor="middle" dominant-baseline="central">4</text><text x="414.2" y="249.7" transform="rotate(78.5 414.2 249.7)" font-size="9" fill="#55556a" text-anchor="middle" dominant-baseline="central">4</text><text x="403.5" y="250.6" transform="rotate(274.0 403.5 250.6)" font-size="9" fill="#55556a" text-anchor="middle" dominant-baseline="central">4</text><text x="394.5" y="248.8" transform="rotate(287.3 394.5 248.8)" font-size="9" fill="#55556a" text-anchor="middle" dominant-baseline="central">3</text><text x="387.3" y="246.1" transform="rotate(298.4 387.3 246.1)" font-size="9" fill="#55556a" text-anchor="middle" dominant-baseline="central">3</text><text x="380.4" y="240.8" transform="rotate(311.0 380.4 240.8)" font-size="9" fill="#55556a" text-anchor="middle" dominant-baseline="central">3</text><text x="373.9" y="233.7" transform="rotate(325.0 373.9 233.7)" font-size="9" fill="#55556a" text-anchor="middle" dominant-baseline="central">3</text><text x="368.5" y="225.5" transform="rotate(339.0 368.5 225.5)" font-size="9" fill="#55556a" text-anchor="middle" dominant-baseline="central">2</text><text x="365.8" y="217.4" transform="rotate(351.0 365.8 217.4)" font-size="9" fill="#55556a" text-anchor="middle" dominant-baseline="central">2</text><text x="391.8" y="173.5" transform="rotate(428.9 391.8 173.5)" font-size="9" fill="#55556a" text-anchor="middle" dominant-baseline="central">5</text></svg>
<div class="t" style="left:33.50px;top:116.43px;font-size:14.5px;font-weight:400;color:#1d1d35;font-style:normal;letter-spacing:-0.125px;">Top Talkers</div>
<div class="t" style="left:185.60px;top:116.43px;font-size:14.5px;font-weight:400;color:#1d1d35;font-style:normal;letter-spacing:-0.150px;">Top Connections</div>
<div class="t" style="left:337.90px;top:116.43px;font-size:14.5px;font-weight:400;color:#1d1d35;font-style:normal;letter-spacing:-0.054px;">Top Protocols</div>
<div style="position:absolute;left:33px;top:297px;width:139px;height:1px;background:#dcdcdc"></div>
<div style="position:absolute;left:185px;top:297px;width:139px;height:1px;background:#dcdcdc"></div>
<div style="position:absolute;left:337px;top:297px;width:139px;height:1px;background:#dcdcdc"></div>
<div style="position:absolute;left:827px;top:278px;width:78px;height:28px;background:#00a0dc"></div>
<div class="t" style="left:833.60px;top:284.80px;font-size:13px;font-weight:400;color:#fff;font-style:normal;letter-spacing:0.165px;">Add Toplist</div>
<svg style="position:absolute;left:0;top:0" width="909" height="921"><path d="M177.05,494.35 A82.10,82.10 0 1 1 293.15,494.35 L275.01,476.21 A58.00,58.00 0 1 0 184.04,487.36 Z" fill="#b7c31b"/><path d="M175.88,494.93 L237.36,430.08 A2.80,2.80 0 0 1 241.32,434.04 L176.47,495.52 Z" fill="#777"/><path d="M58.96,86.04 A6.70,6.70 0 1 1 68.44,86.04 L66.96,84.56 A4.73,4.73 0 1 0 59.53,85.47 Z" fill="#0b98d6"/><path d="M59.67,78.30 L64.47,81.05 A0.65,0.65 0 0 1 63.73,82.11 L59.50,78.54 Z" fill="#0b98d6"/><path d="M440.02,382.78 A21.05,21.05 0 1 1 469.78,382.78 L465.13,378.13 A14.87,14.87 0 1 0 441.81,380.99 Z" fill="#b7c31b"/><path d="M439.65,382.87 L455.39,366.21 A0.85,0.85 0 0 1 456.59,367.41 L439.93,383.15 Z" fill="#666"/><path d="M594.02,382.78 A21.05,21.05 0 1 1 623.78,382.78 L619.13,378.13 A14.87,14.87 0 1 0 595.81,380.99 Z" fill="#b7c31b"/><path d="M593.65,382.87 L609.39,366.21 A0.85,0.85 0 0 1 610.59,367.41 L593.93,383.15 Z" fill="#666"/><path d="M748.02,382.78 A21.05,21.05 0 1 1 777.78,382.78 L773.13,378.13 A14.87,14.87 0 1 0 749.81,380.99 Z" fill="#b7c31b"/><path d="M747.65,382.87 L763.39,366.21 A0.85,0.85 0 0 1 764.59,367.41 L747.93,383.15 Z" fill="#666"/><path d="M440.02,455.78 A21.05,21.05 0 1 1 469.78,455.78 L465.13,451.13 A14.87,14.87 0 1 0 441.81,453.99 Z" fill="#b7c31b"/><path d="M439.65,455.87 L455.39,439.21 A0.85,0.85 0 0 1 456.59,440.41 L439.93,456.15 Z" fill="#666"/><path d="M594.02,455.78 A21.05,21.05 0 1 1 623.78,455.78 L619.13,451.13 A14.87,14.87 0 1 0 595.81,453.99 Z" fill="#b7c31b"/><path d="M593.65,455.87 L609.39,439.21 A0.85,0.85 0 0 1 610.59,440.41 L593.93,456.15 Z" fill="#666"/><path d="M748.02,455.78 A21.05,21.05 0 1 1 777.78,455.78 L773.13,451.13 A14.87,14.87 0 1 0 749.81,453.99 Z" fill="#b7c31b"/><path d="M747.65,455.87 L763.39,439.21 A0.85,0.85 0 0 1 764.59,440.41 L747.93,456.15 Z" fill="#666"/><path d="M440.02,528.78 A21.05,21.05 0 1 1 469.78,528.78 L465.13,524.13 A14.87,14.87 0 1 0 441.81,526.99 Z" fill="#b7c31b"/><path d="M439.65,528.87 L455.39,512.21 A0.85,0.85 0 0 1 456.59,513.41 L439.93,529.15 Z" fill="#666"/><path d="M594.02,528.78 A21.05,21.05 0 1 1 623.78,528.78 L619.13,524.13 A14.87,14.87 0 1 0 595.81,526.99 Z" fill="#b7c31b"/><path d="M609.66,492.55 L609.71,515.46 A0.85,0.85 0 0 1 608.01,515.42 L609.26,492.54 Z" fill="#666"/><path d="M587.4,513.1 L590.3,514.6 L587.4,516.1Z" fill="#fff"/><path d="M748.02,528.78 A21.05,21.05 0 1 1 777.78,528.78 L773.13,524.13 A14.87,14.87 0 1 0 749.81,526.99 Z" fill="#b7c31b"/><path d="M747.65,528.87 L763.39,512.21 A0.85,0.85 0 0 1 764.59,513.41 L747.93,529.15 Z" fill="#666"/><path d="M133.02,601.78 A21.05,21.05 0 1 1 162.78,601.78 L158.13,597.13 A14.87,14.87 0 1 0 134.81,599.99 Z" fill="#b7c31b"/><path d="M132.65,601.87 L148.39,585.21 A0.85,0.85 0 0 1 149.59,586.41 L132.93,602.15 Z" fill="#666"/><g fill="#d0d0d0"><circle cx="473.0" cy="388.0" r="3.2"/><rect x="472.1" y="383.7" width="1.8" height="8.6" transform="rotate(0 473.0 388.0)"/><rect x="472.1" y="383.7" width="1.8" height="8.6" transform="rotate(45 473.0 388.0)"/><rect x="472.1" y="383.7" width="1.8" height="8.6" transform="rotate(90 473.0 388.0)"/><rect x="472.1" y="383.7" width="1.8" height="8.6" transform="rotate(135 473.0 388.0)"/><rect x="472.1" y="383.7" width="1.8" height="8.6" transform="rotate(180 473.0 388.0)"/><rect x="472.1" y="383.7" width="1.8" height="8.6" transform="rotate(225 473.0 388.0)"/><rect x="472.1" y="383.7" width="1.8" height="8.6" transform="rotate(270 473.0 388.0)"/><rect x="472.1" y="383.7" width="1.8" height="8.6" transform="rotate(315 473.0 388.0)"/></g><circle cx="473.0" cy="388.0" r="1.3" fill="#fff"/><path d="M480.8,384.5 h5 v1 h-1 v3 l1.2,1.6 h-2.3 v2.9 l-0.6,0.9 l-0.6,-0.9 v-2.9 h-2.3 l1.2,-1.6 v-3 h-1Z" fill="#d0d0d0"/><g fill="#d0d0d0"><circle cx="627.0" cy="388.0" r="3.2"/><rect x="626.1" y="383.7" width="1.8" height="8.6" transform="rotate(0 627.0 388.0)"/><rect x="626.1" y="383.7" width="1.8" height="8.6" transform="rotate(45 627.0 388.0)"/><rect x="626.1" y="383.7" width="1.8" height="8.6" transform="rotate(90 627.0 388.0)"/><rect x="626.1" y="383.7" width="1.8" height="8.6" transform="rotate(135 627.0 388.0)"/><rect x="626.1" y="383.7" width="1.8" height="8.6" transform="rotate(180 627.0 388.0)"/><rect x="626.1" y="383.7" width="1.8" height="8.6" transform="rotate(225 627.0 388.0)"/><rect x="626.1" y="383.7" width="1.8" height="8.6" transform="rotate(270 627.0 388.0)"/><rect x="626.1" y="383.7" width="1.8" height="8.6" transform="rotate(315 627.0 388.0)"/></g><circle cx="627.0" cy="388.0" r="1.3" fill="#fff"/><path d="M634.8,384.5 h5 v1 h-1 v3 l1.2,1.6 h-2.3 v2.9 l-0.6,0.9 l-0.6,-0.9 v-2.9 h-2.3 l1.2,-1.6 v-3 h-1Z" fill="#d0d0d0"/><g fill="#d0d0d0"><circle cx="781.0" cy="388.0" r="3.2"/><rect x="780.1" y="383.7" width="1.8" height="8.6" transform="rotate(0 781.0 388.0)"/><rect x="780.1" y="383.7" width="1.8" height="8.6" transform="rotate(45 781.0 388.0)"/><rect x="780.1" y="383.7" width="1.8" height="8.6" transform="rotate(90 781.0 388.0)"/><rect x="780.1" y="383.7" width="1.8" height="8.6" transform="rotate(135 781.0 388.0)"/><rect x="780.1" y="383.7" width="1.8" height="8.6" transform="rotate(180 781.0 388.0)"/><rect x="780.1" y="383.7" width="1.8" height="8.6" transform="rotate(225 781.0 388.0)"/><rect x="780.1" y="383.7" width="1.8" height="8.6" transform="rotate(270 781.0 388.0)"/><rect x="780.1" y="383.7" width="1.8" height="8.6" transform="rotate(315 781.0 388.0)"/></g><circle cx="781.0" cy="388.0" r="1.3" fill="#fff"/><path d="M788.8,384.5 h5 v1 h-1 v3 l1.2,1.6 h-2.3 v2.9 l-0.6,0.9 l-0.6,-0.9 v-2.9 h-2.3 l1.2,-1.6 v-3 h-1Z" fill="#d0d0d0"/><g fill="#d0d0d0"><circle cx="473.0" cy="461.0" r="3.2"/><rect x="472.1" y="456.7" width="1.8" height="8.6" transform="rotate(0 473.0 461.0)"/><rect x="472.1" y="456.7" width="1.8" height="8.6" transform="rotate(45 473.0 461.0)"/><rect x="472.1" y="456.7" width="1.8" height="8.6" transform="rotate(90 473.0 461.0)"/><rect x="472.1" y="456.7" width="1.8" height="8.6" transform="rotate(135 473.0 461.0)"/><rect x="472.1" y="456.7" width="1.8" height="8.6" transform="rotate(180 473.0 461.0)"/><rect x="472.1" y="456.7" width="1.8" height="8.6" transform="rotate(225 473.0 461.0)"/><rect x="472.1" y="456.7" width="1.8" height="8.6" transform="rotate(270 473.0 461.0)"/><rect x="472.1" y="456.7" width="1.8" height="8.6" transform="rotate(315 473.0 461.0)"/></g><circle cx="473.0" cy="461.0" r="1.3" fill="#fff"/><path d="M480.8,457.5 h5 v1 h-1 v3 l1.2,1.6 h-2.3 v2.9 l-0.6,0.9 l-0.6,-0.9 v-2.9 h-2.3 l1.2,-1.6 v-3 h-1Z" fill="#d0d0d0"/><g fill="#d0d0d0"><circle cx="627.0" cy="461.0" r="3.2"/><rect x="626.1" y="456.7" width="1.8" height="8.6" transform="rotate(0 627.0 461.0)"/><rect x="626.1" y="456.7" width="1.8" height="8.6" transform="rotate(45 627.0 461.0)"/><rect x="626.1" y="456.7" width="1.8" height="8.6" transform="rotate(90 627.0 461.0)"/><rect x="626.1" y="456.7" width="1.8" height="8.6" transform="rotate(135 627.0 461.0)"/><rect x="626.1" y="456.7" width="1.8" height="8.6" transform="rotate(180 627.0 461.0)"/><rect x="626.1" y="456.7" width="1.8" height="8.6" transform="rotate(225 627.0 461.0)"/><rect x="626.1" y="456.7" width="1.8" height="8.6" transform="rotate(270 627.0 461.0)"/><rect x="626.1" y="456.7" width="1.8" height="8.6" transform="rotate(315 627.0 461.0)"/></g><circle cx="627.0" cy="461.0" r="1.3" fill="#fff"/><path d="M634.8,457.5 h5 v1 h-1 v3 l1.2,1.6 h-2.3 v2.9 l-0.6,0.9 l-0.6,-0.9 v-2.9 h-2.3 l1.2,-1.6 v-3 h-1Z" fill="#d0d0d0"/><g fill="#d0d0d0"><circle cx="781.0" cy="461.0" r="3.2"/><rect x="780.1" y="456.7" width="1.8" height="8.6" transform="rotate(0 781.0 461.0)"/><rect x="780.1" y="456.7" width="1.8" height="8.6" transform="rotate(45 781.0 461.0)"/><rect x="780.1" y="456.7" width="1.8" height="8.6" transform="rotate(90 781.0 461.0)"/><rect x="780.1" y="456.7" width="1.8" height="8.6" transform="rotate(135 781.0 461.0)"/><rect x="780.1" y="456.7" width="1.8" height="8.6" transform="rotate(180 781.0 461.0)"/><rect x="780.1" y="456.7" width="1.8" height="8.6" transform="rotate(225 781.0 461.0)"/><rect x="780.1" y="456.7" width="1.8" height="8.6" transform="rotate(270 781.0 461.0)"/><rect x="780.1" y="456.7" width="1.8" height="8.6" transform="rotate(315 781.0 461.0)"/></g><circle cx="781.0" cy="461.0" r="1.3" fill="#fff"/><path d="M788.8,457.5 h5 v1 h-1 v3 l1.2,1.6 h-2.3 v2.9 l-0.6,0.9 l-0.6,-0.9 v-2.9 h-2.3 l1.2,-1.6 v-3 h-1Z" fill="#d0d0d0"/><g fill="#d0d0d0"><circle cx="473.0" cy="534.0" r="3.2"/><rect x="472.1" y="529.7" width="1.8" height="8.6" transform="rotate(0 473.0 534.0)"/><rect x="472.1" y="529.7" width="1.8" height="8.6" transform="rotate(45 473.0 534.0)"/><rect x="472.1" y="529.7" width="1.8" height="8.6" transform="rotate(90 473.0 534.0)"/><rect x="472.1" y="529.7" width="1.8" height="8.6" transform="rotate(135 473.0 534.0)"/><rect x="472.1" y="529.7" width="1.8" height="8.6" transform="rotate(180 473.0 534.0)"/><rect x="472.1" y="529.7" width="1.8" height="8.6" transform="rotate(225 473.0 534.0)"/><rect x="472.1" y="529.7" width="1.8" height="8.6" transform="rotate(270 473.0 534.0)"/><rect x="472.1" y="529.7" width="1.8" height="8.6" transform="rotate(315 473.0 534.0)"/></g><circle cx="473.0" cy="534.0" r="1.3" fill="#fff"/><path d="M480.8,530.5 h5 v1 h-1 v3 l1.2,1.6 h-2.3 v2.9 l-0.6,0.9 l-0.6,-0.9 v-2.9 h-2.3 l1.2,-1.6 v-3 h-1Z" fill="#d0d0d0"/><g fill="#d0d0d0"><circle cx="627.0" cy="534.0" r="3.2"/><rect x="626.1" y="529.7" width="1.8" height="8.6" transform="rotate(0 627.0 534.0)"/><rect x="626.1" y="529.7" width="1.8" height="8.6" transform="rotate(45 627.0 534.0)"/><rect x="626.1" y="529.7" width="1.8" height="8.6" transform="rotate(90 627.0 534.0)"/><rect x="626.1" y="529.7" width="1.8" height="8.6" transform="rotate(135 627.0 534.0)"/><rect x="626.1" y="529.7" width="1.8" height="8.6" transform="rotate(180 627.0 534.0)"/><rect x="626.1" y="529.7" width="1.8" height="8.6" transform="rotate(225 627.0 534.0)"/><rect x="626.1" y="529.7" width="1.8" height="8.6" transform="rotate(270 627.0 534.0)"/><rect x="626.1" y="529.7" width="1.8" height="8.6" transform="rotate(315 627.0 534.0)"/></g><circle cx="627.0" cy="534.0" r="1.3" fill="#fff"/><path d="M634.8,530.5 h5 v1 h-1 v3 l1.2,1.6 h-2.3 v2.9 l-0.6,0.9 l-0.6,-0.9 v-2.9 h-2.3 l1.2,-1.6 v-3 h-1Z" fill="#d0d0d0"/><g fill="#d0d0d0"><circle cx="781.0" cy="534.0" r="3.2"/><rect x="780.1" y="529.7" width="1.8" height="8.6" transform="rotate(0 781.0 534.0)"/><rect x="780.1" y="529.7" width="1.8" height="8.6" transform="rotate(45 781.0 534.0)"/><rect x="780.1" y="529.7" width="1.8" height="8.6" transform="rotate(90 781.0 534.0)"/><rect x="780.1" y="529.7" width="1.8" height="8.6" transform="rotate(135 781.0 534.0)"/><rect x="780.1" y="529.7" width="1.8" height="8.6" transform="rotate(180 781.0 534.0)"/><rect x="780.1" y="529.7" width="1.8" height="8.6" transform="rotate(225 781.0 534.0)"/><rect x="780.1" y="529.7" width="1.8" height="8.6" transform="rotate(270 781.0 534.0)"/><rect x="780.1" y="529.7" width="1.8" height="8.6" transform="rotate(315 781.0 534.0)"/></g><circle cx="781.0" cy="534.0" r="1.3" fill="#fff"/><path d="M788.8,530.5 h5 v1 h-1 v3 l1.2,1.6 h-2.3 v2.9 l-0.6,0.9 l-0.6,-0.9 v-2.9 h-2.3 l1.2,-1.6 v-3 h-1Z" fill="#d0d0d0"/><g fill="#d0d0d0"><circle cx="166.0" cy="607.0" r="3.2"/><rect x="165.1" y="602.7" width="1.8" height="8.6" transform="rotate(0 166.0 607.0)"/><rect x="165.1" y="602.7" width="1.8" height="8.6" transform="rotate(45 166.0 607.0)"/><rect x="165.1" y="602.7" width="1.8" height="8.6" transform="rotate(90 166.0 607.0)"/><rect x="165.1" y="602.7" width="1.8" height="8.6" transform="rotate(135 166.0 607.0)"/><rect x="165.1" y="602.7" width="1.8" height="8.6" transform="rotate(180 166.0 607.0)"/><rect x="165.1" y="602.7" width="1.8" height="8.6" transform="rotate(225 166.0 607.0)"/><rect x="165.1" y="602.7" width="1.8" height="8.6" transform="rotate(270 166.0 607.0)"/><rect x="165.1" y="602.7" width="1.8" height="8.6" transform="rotate(315 166.0 607.0)"/></g><circle cx="166.0" cy="607.0" r="1.3" fill="#fff"/><path d="M173.8,603.5 h5 v1 h-1 v3 l1.2,1.6 h-2.3 v2.9 l-0.6,0.9 l-0.6,-0.9 v-2.9 h-2.3 l1.2,-1.6 v-3 h-1Z" fill="#d0d0d0"/><g fill="#d0d0d0"><circle cx="318.2" cy="534.0" r="3.2"/><rect x="317.3" y="529.7" width="1.8" height="8.6" transform="rotate(0 318.2 534.0)"/><rect x="317.3" y="529.7" width="1.8" height="8.6" transform="rotate(45 318.2 534.0)"/><rect x="317.3" y="529.7" width="1.8" height="8.6" transform="rotate(90 318.2 534.0)"/><rect x="317.3" y="529.7" width="1.8" height="8.6" transform="rotate(135 318.2 534.0)"/><rect x="317.3" y="529.7" width="1.8" height="8.6" transform="rotate(180 318.2 534.0)"/><rect x="317.3" y="529.7" width="1.8" height="8.6" transform="rotate(225 318.2 534.0)"/><rect x="317.3" y="529.7" width="1.8" height="8.6" transform="rotate(270 318.2 534.0)"/><rect x="317.3" y="529.7" width="1.8" height="8.6" transform="rotate(315 318.2 534.0)"/></g><circle cx="318.2" cy="534.0" r="1.3" fill="#fff"/><path d="M326.0,530.5 h5 v1 h-1 v3 l1.2,1.6 h-2.3 v2.9 l-0.6,0.9 l-0.6,-0.9 v-2.9 h-2.3 l1.2,-1.6 v-3 h-1Z" fill="#d0d0d0"/></svg>
<div class="t" style="left:38.38px;top:336.56px;font-size:12.8px;font-weight:400;color:#333;font-style:normal;letter-spacing:0.150px;-webkit-text-stroke:0.35px #333;">Total</div>
<div class="t" style="left:39.02px;top:522.65px;font-size:14px;font-weight:400;color:#333;font-style:normal;letter-spacing:-0.263px;-webkit-text-stroke:0.25px #333;">18 kbit/s</div>
<div class="t" style="left:163.00px;top:514.06px;font-size:12.8px;font-weight:400;color:#333;font-style:normal;letter-spacing:-0.221px;">0 kbit/s</div>
<div class="t" style="left:254.10px;top:514.06px;font-size:12.8px;font-weight:400;color:#333;font-style:normal;letter-spacing:-0.450px;">28,091 kbit/s</div>
<div style="position:absolute;left:33px;top:540px;width:301px;height:1px;background:#dcdcdc"></div>
<div class="t" style="left:345.47px;top:336.98px;font-size:10.3px;font-weight:400;color:#333;font-style:normal;letter-spacing:0.050px;-webkit-text-stroke:0.15px #333;">FTP/P2P</div>
<div class="t" style="left:345.50px;top:379.97px;font-size:10.2px;font-weight:400;color:#333;font-style:normal;letter-spacing:0.280px;-webkit-text-stroke:0.2px #333;">0 kbit/s</div>
<div style="position:absolute;left:340px;top:394px;width:148px;height:1px;background:#dcdcdc"></div>
<div class="t" style="left:499.47px;top:336.98px;font-size:10.3px;font-weight:400;color:#333;font-style:normal;letter-spacing:0.050px;-webkit-text-stroke:0.15px #333;">HTTP</div>
<div class="t" style="left:499.50px;top:379.97px;font-size:10.2px;font-weight:400;color:#333;font-style:normal;letter-spacing:0.280px;-webkit-text-stroke:0.2px #333;">0 kbit/s</div>
<div style="position:absolute;left:494px;top:394px;width:148px;height:1px;background:#dcdcdc"></div>
<div class="t" style="left:653.48px;top:336.98px;font-size:10.3px;font-weight:400;color:#333;font-style:normal;letter-spacing:0.050px;-webkit-text-stroke:0.15px #333;">Infrastructure</div>
<div class="t" style="left:653.50px;top:379.97px;font-size:10.2px;font-weight:400;color:#333;font-style:normal;letter-spacing:0.280px;-webkit-text-stroke:0.2px #333;">0.50 kbit/s</div>
<div style="position:absolute;left:648px;top:394px;width:148px;height:1px;background:#dcdcdc"></div>
<div class="t" style="left:345.47px;top:409.98px;font-size:10.3px;font-weight:400;color:#333;font-style:normal;letter-spacing:0.050px;-webkit-text-stroke:0.15px #333;">Mail</div>
<div class="t" style="left:345.50px;top:452.97px;font-size:10.2px;font-weight:400;color:#333;font-style:normal;letter-spacing:0.280px;-webkit-text-stroke:0.2px #333;">0 kbit/s</div>
<div style="position:absolute;left:340px;top:467px;width:148px;height:1px;background:#dcdcdc"></div>
<div class="t" style="left:499.47px;top:409.98px;font-size:10.3px;font-weight:400;color:#333;font-style:normal;letter-spacing:0.050px;-webkit-text-stroke:0.15px #333;">NetBIOS</div>
<div class="t" style="left:499.50px;top:452.97px;font-size:10.2px;font-weight:400;color:#333;font-style:normal;letter-spacing:0.280px;-webkit-text-stroke:0.2px #333;">5.54 kbit/s</div>
<div style="position:absolute;left:494px;top:467px;width:148px;height:1px;background:#dcdcdc"></div>
<div class="t" style="left:653.48px;top:409.98px;font-size:10.3px;font-weight:400;color:#333;font-style:normal;letter-spacing:0.050px;-webkit-text-stroke:0.15px #333;">Other</div>
<div class="t" style="left:653.50px;top:452.97px;font-size:10.2px;font-weight:400;color:#333;font-style:normal;letter-spacing:0.280px;-webkit-text-stroke:0.2px #333;">0 kbit/s</div>
<div style="position:absolute;left:648px;top:467px;width:148px;height:1px;background:#dcdcdc"></div>
<div class="t" style="left:345.47px;top:482.98px;font-size:10.3px;font-weight:400;color:#333;font-style:normal;letter-spacing:0.050px;-webkit-text-stroke:0.15px #333;">OtherUDP</div>
<div class="t" style="left:345.50px;top:525.97px;font-size:10.2px;font-weight:400;color:#333;font-style:normal;letter-spacing:0.280px;-webkit-text-stroke:0.2px #333;">0 kbit/s</div>
<div style="position:absolute;left:340px;top:540px;width:148px;height:1px;background:#dcdcdc"></div>
<div class="t" style="left:499.47px;top:482.98px;font-size:10.3px;font-weight:400;color:#333;font-style:normal;letter-spacing:0.050px;-webkit-text-stroke:0.15px #333;">Remote Control</div>
<div class="t" style="left:499.50px;top:525.97px;font-size:10.2px;font-weight:400;color:#333;font-style:normal;letter-spacing:0.280px;-webkit-text-stroke:0.2px #333;">5.67 kbit/s</div>
<div style="position:absolute;left:494px;top:540px;width:148px;height:1px;background:#dcdcdc"></div>
<div class="t" style="left:653.48px;top:482.98px;font-size:10.3px;font-weight:400;color:#333;font-style:normal;letter-spacing:0.050px;-webkit-text-stroke:0.15px #333;">Various</div>
<div class="t" style="left:653.50px;top:525.97px;font-size:10.2px;font-weight:400;color:#333;font-style:normal;letter-spacing:0.280px;-webkit-text-stroke:0.2px #333;">2.92 kbit/s</div>
<div style="position:absolute;left:648px;top:540px;width:148px;height:1px;background:#dcdcdc"></div>
<div class="t" style="left:38.35px;top:555.94px;font-size:10px;font-weight:400;color:#333;font-style:normal;letter-spacing:-0.625px;-webkit-text-stroke:0.1px #333;">WWW</div>
<div class="t" style="left:38.70px;top:598.97px;font-size:10.2px;font-weight:400;color:#333;font-style:normal;letter-spacing:0.280px;-webkit-text-stroke:0.2px #333;">3.10 kbit/s</div>
<div style="position:absolute;left:33px;top:613px;width:148px;height:1px;background:#dcdcdc"></div>
<div class="t" style="left:58.83px;top:683.32px;font-size:12.5px;font-weight:400;color:#1c1c30;font-style:normal;letter-spacing:-0.150px;-webkit-text-stroke:0.45px #1c1c30;">Channel</div>
<div class="t" style="left:238.72px;top:683.32px;font-size:12.5px;font-weight:400;color:#1c1c30;font-style:normal;-webkit-text-stroke:0.45px #1c1c30;">ID</div>
<div class="t" style="left:290.03px;top:683.32px;font-size:12.5px;font-weight:400;color:#1c1c30;font-style:normal;letter-spacing:0.089px;-webkit-text-stroke:0.45px #1c1c30;">Last Value</div>
<div class="t" style="left:295.53px;top:697.62px;font-size:12.5px;font-weight:400;color:#1c1c30;font-style:normal;letter-spacing:0.321px;-webkit-text-stroke:0.45px #1c1c30;">(volume)</div>
<div class="t" style="left:373.62px;top:683.32px;font-size:12.5px;font-weight:400;color:#1c1c30;font-style:normal;letter-spacing:0.222px;-webkit-text-stroke:0.45px #1c1c30;">Last Value</div>
<div class="t" style="left:374.23px;top:697.62px;font-size:12.5px;font-weight:400;color:#1c1c30;font-style:normal;letter-spacing:0.192px;-webkit-text-stroke:0.45px #1c1c30;">(speed)</div>
<div class="t" style="left:522.02px;top:683.32px;font-size:12.5px;font-weight:400;color:#1c1c30;font-style:normal;letter-spacing:0.508px;-webkit-text-stroke:0.45px #1c1c30;">Minimum</div>
<div class="t" style="left:678.02px;top:683.32px;font-size:12.5px;font-weight:400;color:#1c1c30;font-style:normal;letter-spacing:0.417px;-webkit-text-stroke:0.45px #1c1c30;">Maximum</div>
<div style="position:absolute;left:48px;top:729px;width:842px;height:1px;background:#e6e6e6"></div>
<div class="t" style="left:58.60px;top:744.19px;font-size:12.3px;font-weight:400;color:#555;font-style:normal;letter-spacing:0.380px;">Downtime</div>
<div class="t" style="left:254.27px;top:744.19px;font-size:12.3px;font-weight:400;color:#555;font-style:normal;letter-spacing:0.280px;">-4</div>
<div style="position:absolute;left:48px;top:760px;width:842px;height:1px;background:#e6e6e6"></div>
<div class="t" style="left:58.60px;top:775.19px;font-size:12.3px;font-weight:400;color:#555;font-style:normal;letter-spacing:0.380px;">FTP/P2P</div>
<div class="t" style="left:237.31px;top:775.19px;font-size:12.3px;font-weight:400;color:#555;font-style:normal;letter-spacing:0.280px;">3002</div>
<div class="t" style="left:305.47px;top:775.19px;font-size:12.3px;font-weight:400;color:#555;font-style:normal;letter-spacing:0.130px;">0 KByte</div>
<div class="t" style="left:391.03px;top:775.19px;font-size:12.3px;font-weight:400;color:#555;font-style:normal;letter-spacing:0.460px;">0 kbit/s</div>
<div style="position:absolute;left:48px;top:791px;width:842px;height:1px;background:#e6e6e6"></div>
<div class="t" style="left:58.60px;top:806.19px;font-size:12.3px;font-weight:400;color:#555;font-style:normal;letter-spacing:0.380px;">HTTP</div>
<div class="t" style="left:237.31px;top:806.19px;font-size:12.3px;font-weight:400;color:#555;font-style:normal;letter-spacing:0.280px;">1001</div>
<div class="t" style="left:305.47px;top:806.19px;font-size:12.3px;font-weight:400;color:#555;font-style:normal;letter-spacing:0.130px;">0 KByte</div>
<div class="t" style="left:391.03px;top:806.19px;font-size:12.3px;font-weight:400;color:#555;font-style:normal;letter-spacing:0.460px;">0 kbit/s</div>
<div style="position:absolute;left:48px;top:822px;width:842px;height:1px;background:#e6e6e6"></div>
<div class="t" style="left:58.60px;top:837.19px;font-size:12.3px;font-weight:400;color:#555;font-style:normal;letter-spacing:0.380px;">Infrastructure</div>
<div class="t" style="left:237.31px;top:837.19px;font-size:12.3px;font-weight:400;color:#555;font-style:normal;letter-spacing:0.280px;">3007</div>
<div class="t" style="left:287.98px;top:837.19px;font-size:12.3px;font-weight:400;color:#555;font-style:normal;letter-spacing:0.130px;">6.45 KByte</div>
<div class="t" style="left:372.55px;top:837.19px;font-size:12.3px;font-weight:400;color:#555;font-style:normal;letter-spacing:0.460px;">0.88 kbit/s</div>
<div class="t" style="left:548.83px;top:837.19px;font-size:12.3px;font-weight:400;color:#555;font-style:normal;letter-spacing:0.460px;">0 kbit/s</div>
<div class="t" style="left:682.74px;top:837.19px;font-size:12.3px;font-weight:400;color:#555;font-style:normal;letter-spacing:0.460px;">6,619 kbit/s</div>
<div style="position:absolute;left:48px;top:853px;width:842px;height:1px;background:#e6e6e6"></div>
<div class="t" style="left:58.60px;top:868.19px;font-size:12.3px;font-weight:400;color:#555;font-style:normal;letter-spacing:0.380px;">Mail</div>
<div class="t" style="left:237.31px;top:868.19px;font-size:12.3px;font-weight:400;color:#555;font-style:normal;letter-spacing:0.280px;">3003</div>
<div class="t" style="left:305.47px;top:868.19px;font-size:12.3px;font-weight:400;color:#555;font-style:normal;letter-spacing:0.130px;">0 KByte</div>
<div class="t" style="left:391.03px;top:868.19px;font-size:12.3px;font-weight:400;color:#555;font-style:normal;letter-spacing:0.460px;">0 kbit/s</div>
<div style="position:absolute;left:48px;top:884px;width:842px;height:1px;background:#e6e6e6"></div>
<div class="t" style="left:58.60px;top:899.19px;font-size:12.3px;font-weight:400;color:#555;font-style:normal;letter-spacing:0.380px;">NetBIOS</div>
<div class="t" style="left:237.31px;top:899.19px;font-size:12.3px;font-weight:400;color:#555;font-style:normal;letter-spacing:0.280px;">3008</div>
<div class="t" style="left:298.49px;top:899.19px;font-size:12.3px;font-weight:400;color:#555;font-style:normal;letter-spacing:0.130px;">49 KByte</div>
<div class="t" style="left:372.55px;top:899.19px;font-size:12.3px;font-weight:400;color:#555;font-style:normal;letter-spacing:0.460px;">6.66 kbit/s</div>
<div class="t" style="left:548.83px;top:899.19px;font-size:12.3px;font-weight:400;color:#555;font-style:normal;letter-spacing:0.460px;">0 kbit/s</div>
<div class="t" style="left:675.43px;top:899.19px;font-size:12.3px;font-weight:400;color:#555;font-style:normal;letter-spacing:0.460px;">14,159 kbit/s</div>
<div style="position:absolute;left:48px;top:915px;width:842px;height:1px;background:#e6e6e6"></div>
<svg style="position:absolute;left:0;top:0" width="909" height="921"><path d="M111.5,687.5 L119,687.5 L115.25,691.5Z" fill="#1c1c30"/><path d="M255.5,686.3 L259.5,682 L263.5,686.3Z M255.5,688.2 L259.5,692.5 L263.5,688.2Z" fill="#c8c8c8"/><path d="M340,715.8 L344,711.5 L348,715.8Z M340,717.7 L344,722.0 L348,717.7Z" fill="#c8c8c8"/><path d="M424,700.8 L428,696.5 L432,700.8Z M424,702.7 L428,707.0 L432,702.7Z" fill="#c8c8c8"/><path d="M582,686.3 L586,682 L590,686.3Z M582,688.2 L586,692.5 L590,688.2Z" fill="#c8c8c8"/><path d="M741,686.3 L745,682 L749,686.3Z M741,688.2 L745,692.5 L749,688.2Z" fill="#c8c8c8"/><g fill="#505050"><rect x="823.95" y="743.20" width="1.7" height="8.8" transform="rotate(11.25 824.8 747.6)"/><rect x="823.95" y="743.20" width="1.7" height="8.8" transform="rotate(33.75 824.8 747.6)"/><rect x="823.95" y="743.20" width="1.7" height="8.8" transform="rotate(56.25 824.8 747.6)"/><rect x="823.95" y="743.20" width="1.7" height="8.8" transform="rotate(78.75 824.8 747.6)"/><rect x="823.95" y="743.20" width="1.7" height="8.8" transform="rotate(101.25 824.8 747.6)"/><rect x="823.95" y="743.20" width="1.7" height="8.8" transform="rotate(123.75 824.8 747.6)"/><rect x="823.95" y="743.20" width="1.7" height="8.8" transform="rotate(146.25 824.8 747.6)"/><rect x="823.95" y="743.20" width="1.7" height="8.8" transform="rotate(168.75 824.8 747.6)"/><circle cx="824.8" cy="747.6" r="3.5"/><rect x="818.70" y="750.70" width="1.2" height="5.6" transform="rotate(0 819.3 753.5)"/><rect x="818.70" y="750.70" width="1.2" height="5.6" transform="rotate(30 819.3 753.5)"/><rect x="818.70" y="750.70" width="1.2" height="5.6" transform="rotate(60 819.3 753.5)"/><rect x="818.70" y="750.70" width="1.2" height="5.6" transform="rotate(90 819.3 753.5)"/><rect x="818.70" y="750.70" width="1.2" height="5.6" transform="rotate(120 819.3 753.5)"/><rect x="818.70" y="750.70" width="1.2" height="5.6" transform="rotate(150 819.3 753.5)"/><circle cx="819.3" cy="753.5" r="2.1"/></g><circle cx="824.8" cy="747.6" r="1.9" fill="#fff"/><circle cx="819.3" cy="753.5" r="0.9" fill="#fff"/><g fill="#505050"><rect x="823.95" y="774.20" width="1.7" height="8.8" transform="rotate(11.25 824.8 778.6)"/><rect x="823.95" y="774.20" width="1.7" height="8.8" transform="rotate(33.75 824.8 778.6)"/><rect x="823.95" y="774.20" width="1.7" height="8.8" transform="rotate(56.25 824.8 778.6)"/><rect x="823.95" y="774.20" width="1.7" height="8.8" transform="rotate(78.75 824.8 778.6)"/><rect x="823.95" y="774.20" width="1.7" height="8.8" transform="rotate(101.25 824.8 778.6)"/><rect x="823.95" y="774.20" width="1.7" height="8.8" transform="rotate(123.75 824.8 778.6)"/><rect x="823.95" y="774.20" width="1.7" height="8.8" transform="rotate(146.25 824.8 778.6)"/><rect x="823.95" y="774.20" width="1.7" height="8.8" transform="rotate(168.75 824.8 778.6)"/><circle cx="824.8" cy="778.6" r="3.5"/><rect x="818.70" y="781.70" width="1.2" height="5.6" transform="rotate(0 819.3 784.5)"/><rect x="818.70" y="781.70" width="1.2" height="5.6" transform="rotate(30 819.3 784.5)"/><rect x="818.70" y="781.70" width="1.2" height="5.6" transform="rotate(60 819.3 784.5)"/><rect x="818.70" y="781.70" width="1.2" height="5.6" transform="rotate(90 819.3 784.5)"/><rect x="818.70" y="781.70" width="1.2" height="5.6" transform="rotate(120 819.3 784.5)"/><rect x="818.70" y="781.70" width="1.2" height="5.6" transform="rotate(150 819.3 784.5)"/><circle cx="819.3" cy="784.5" r="2.1"/></g><circle cx="824.8" cy="778.6" r="1.9" fill="#fff"/><circle cx="819.3" cy="784.5" r="0.9" fill="#fff"/><g fill="#505050"><rect x="823.95" y="805.20" width="1.7" height="8.8" transform="rotate(11.25 824.8 809.6)"/><rect x="823.95" y="805.20" width="1.7" height="8.8" transform="rotate(33.75 824.8 809.6)"/><rect x="823.95" y="805.20" width="1.7" height="8.8" transform="rotate(56.25 824.8 809.6)"/><rect x="823.95" y="805.20" width="1.7" height="8.8" transform="rotate(78.75 824.8 809.6)"/><rect x="823.95" y="805.20" width="1.7" height="8.8" transform="rotate(101.25 824.8 809.6)"/><rect x="823.95" y="805.20" width="1.7" height="8.8" transform="rotate(123.75 824.8 809.6)"/><rect x="823.95" y="805.20" width="1.7" height="8.8" transform="rotate(146.25 824.8 809.6)"/><rect x="823.95" y="805.20" width="1.7" height="8.8" transform="rotate(168.75 824.8 809.6)"/><circle cx="824.8" cy="809.6" r="3.5"/><rect x="818.70" y="812.70" width="1.2" height="5.6" transform="rotate(0 819.3 815.5)"/><rect x="818.70" y="812.70" width="1.2" height="5.6" transform="rotate(30 819.3 815.5)"/><rect x="818.70" y="812.70" width="1.2" height="5.6" transform="rotate(60 819.3 815.5)"/><rect x="818.70" y="812.70" width="1.2" height="5.6" transform="rotate(90 819.3 815.5)"/><rect x="818.70" y="812.70" width="1.2" height="5.6" transform="rotate(120 819.3 815.5)"/><rect x="818.70" y="812.70" width="1.2" height="5.6" transform="rotate(150 819.3 815.5)"/><circle cx="819.3" cy="815.5" r="2.1"/></g><circle cx="824.8" cy="809.6" r="1.9" fill="#fff"/><circle cx="819.3" cy="815.5" r="0.9" fill="#fff"/><g fill="#505050"><rect x="823.95" y="836.20" width="1.7" height="8.8" transform="rotate(11.25 824.8 840.6)"/><rect x="823.95" y="836.20" width="1.7" height="8.8" transform="rotate(33.75 824.8 840.6)"/><rect x="823.95" y="836.20" width="1.7" height="8.8" transform="rotate(56.25 824.8 840.6)"/><rect x="823.95" y="836.20" width="1.7" height="8.8" transform="rotate(78.75 824.8 840.6)"/><rect x="823.95" y="836.20" width="1.7" height="8.8" transform="rotate(101.25 824.8 840.6)"/><rect x="823.95" y="836.20" width="1.7" height="8.8" transform="rotate(123.75 824.8 840.6)"/><rect x="823.95" y="836.20" width="1.7" height="8.8" transform="rotate(146.25 824.8 840.6)"/><rect x="823.95" y="836.20" width="1.7" height="8.8" transform="rotate(168.75 824.8 840.6)"/><circle cx="824.8" cy="840.6" r="3.5"/><rect x="818.70" y="843.70" width="1.2" height="5.6" transform="rotate(0 819.3 846.5)"/><rect x="818.70" y="843.70" width="1.2" height="5.6" transform="rotate(30 819.3 846.5)"/><rect x="818.70" y="843.70" width="1.2" height="5.6" transform="rotate(60 819.3 846.5)"/><rect x="818.70" y="843.70" width="1.2" height="5.6" transform="rotate(90 819.3 846.5)"/><rect x="818.70" y="843.70" width="1.2" height="5.6" transform="rotate(120 819.3 846.5)"/><rect x="818.70" y="843.70" width="1.2" height="5.6" transform="rotate(150 819.3 846.5)"/><circle cx="819.3" cy="846.5" r="2.1"/></g><circle cx="824.8" cy="840.6" r="1.9" fill="#fff"/><circle cx="819.3" cy="846.5" r="0.9" fill="#fff"/><g fill="#505050"><rect x="823.95" y="867.20" width="1.7" height="8.8" transform="rotate(11.25 824.8 871.6)"/><rect x="823.95" y="867.20" width="1.7" height="8.8" transform="rotate(33.75 824.8 871.6)"/><rect x="823.95" y="867.20" width="1.7" height="8.8" transform="rotate(56.25 824.8 871.6)"/><rect x="823.95" y="867.20" width="1.7" height="8.8" transform="rotate(78.75 824.8 871.6)"/><rect x="823.95" y="867.20" width="1.7" height="8.8" transform="rotate(101.25 824.8 871.6)"/><rect x="823.95" y="867.20" width="1.7" height="8.8" transform="rotate(123.75 824.8 871.6)"/><rect x="823.95" y="867.20" width="1.7" height="8.8" transform="rotate(146.25 824.8 871.6)"/><rect x="823.95" y="867.20" width="1.7" height="8.8" transform="rotate(168.75 824.8 871.6)"/><circle cx="824.8" cy="871.6" r="3.5"/><rect x="818.70" y="874.70" width="1.2" height="5.6" transform="rotate(0 819.3 877.5)"/><rect x="818.70" y="874.70" width="1.2" height="5.6" transform="rotate(30 819.3 877.5)"/><rect x="818.70" y="874.70" width="1.2" height="5.6" transform="rotate(60 819.3 877.5)"/><rect x="818.70" y="874.70" width="1.2" height="5.6" transform="rotate(90 819.3 877.5)"/><rect x="818.70" y="874.70" width="1.2" height="5.6" transform="rotate(120 819.3 877.5)"/><rect x="818.70" y="874.70" width="1.2" height="5.6" transform="rotate(150 819.3 877.5)"/><circle cx="819.3" cy="877.5" r="2.1"/></g><circle cx="824.8" cy="871.6" r="1.9" fill="#fff"/><circle cx="819.3" cy="877.5" r="0.9" fill="#fff"/><g fill="#505050"><rect x="823.95" y="898.20" width="1.7" height="8.8" transform="rotate(11.25 824.8 902.6)"/><rect x="823.95" y="898.20" width="1.7" height="8.8" transform="rotate(33.75 824.8 902.6)"/><rect x="823.95" y="898.20" width="1.7" height="8.8" transform="rotate(56.25 824.8 902.6)"/><rect x="823.95" y="898.20" width="1.7" height="8.8" transform="rotate(78.75 824.8 902.6)"/><rect x="823.95" y="898.20" width="1.7" height="8.8" transform="rotate(101.25 824.8 902.6)"/><rect x="823.95" y="898.20" width="1.7" height="8.8" transform="rotate(123.75 824.8 902.6)"/><rect x="823.95" y="898.20" width="1.7" height="8.8" transform="rotate(146.25 824.8 902.6)"/><rect x="823.95" y="898.20" width="1.7" height="8.8" transform="rotate(168.75 824.8 902.6)"/><circle cx="824.8" cy="902.6" r="3.5"/><rect x="818.70" y="905.70" width="1.2" height="5.6" transform="rotate(0 819.3 908.5)"/><rect x="818.70" y="905.70" width="1.2" height="5.6" transform="rotate(30 819.3 908.5)"/><rect x="818.70" y="905.70" width="1.2" height="5.6" transform="rotate(60 819.3 908.5)"/><rect x="818.70" y="905.70" width="1.2" height="5.6" transform="rotate(90 819.3 908.5)"/><rect x="818.70" y="905.70" width="1.2" height="5.6" transform="rotate(120 819.3 908.5)"/><rect x="818.70" y="905.70" width="1.2" height="5.6" transform="rotate(150 819.3 908.5)"/><circle cx="819.3" cy="908.5" r="2.1"/></g><circle cx="824.8" cy="902.6" r="1.9" fill="#fff"/><circle cx="819.3" cy="908.5" r="0.9" fill="#fff"/></svg>
<svg style="position:absolute;left:0;top:0" width="909" height="320"><g fill="#c4c4c4"><rect x="126.7" y="281.0" width="2" height="9.2" transform="rotate(0 127.7 285.6)"/><rect x="126.7" y="281.0" width="2" height="9.2" transform="rotate(45 127.7 285.6)"/><rect x="126.7" y="281.0" width="2" height="9.2" transform="rotate(90 127.7 285.6)"/><rect x="126.7" y="281.0" width="2" height="9.2" transform="rotate(135 127.7 285.6)"/><rect x="126.7" y="281.0" width="2" height="9.2" transform="rotate(180 127.7 285.6)"/><rect x="126.7" y="281.0" width="2" height="9.2" transform="rotate(225 127.7 285.6)"/><rect x="126.7" y="281.0" width="2" height="9.2" transform="rotate(270 127.7 285.6)"/><rect x="126.7" y="281.0" width="2" height="9.2" transform="rotate(315 127.7 285.6)"/><circle cx="127.7" cy="285.6" r="3.5"/><rect x="120.7" y="288.2" width="1.4" height="6" transform="rotate(0 121.4 291.2)"/><rect x="120.7" y="288.2" width="1.4" height="6" transform="rotate(30 121.4 291.2)"/><rect x="120.7" y="288.2" width="1.4" height="6" transform="rotate(60 121.4 291.2)"/><rect x="120.7" y="288.2" width="1.4" height="6" transform="rotate(90 121.4 291.2)"/><rect x="120.7" y="288.2" width="1.4" height="6" transform="rotate(120 121.4 291.2)"/><rect x="120.7" y="288.2" width="1.4" height="6" transform="rotate(150 121.4 291.2)"/><circle cx="121.4" cy="291.2" r="2.2"/></g><circle cx="127.7" cy="285.6" r="1.6" fill="#fff"/><circle cx="121.4" cy="291.2" r="0.9" fill="#fff"/><path d="M138.5,284.2 H148.5 M141.8,284 V282.5 H145.2 V284" fill="none" stroke="#c4c4c4" stroke-width="1.2"/><path d="M139.7,285.5 V292.5 H147.3 V285.5" fill="none" stroke="#c4c4c4" stroke-width="1.2"/><path d="M142.1,286.5 V291 M143.5,286.5 V291 M144.9,286.5 V291" stroke="#c4c4c4" stroke-width="0.8"/><path d="M162.3,283.3 H157.5 V292 H166.3 V287.5" fill="none" stroke="#c4c4c4" stroke-width="1.3"/><path d="M160.8,288.8 L167.3,282.3" stroke="#c4c4c4" stroke-width="1.5"/><path d="M163.8,281 H169.0 V286.2Z" fill="#c4c4c4"/><g fill="#c4c4c4"><rect x="278.7" y="281.0" width="2" height="9.2" transform="rotate(0 279.7 285.6)"/><rect x="278.7" y="281.0" width="2" height="9.2" transform="rotate(45 279.7 285.6)"/><rect x="278.7" y="281.0" width="2" height="9.2" transform="rotate(90 279.7 285.6)"/><rect x="278.7" y="281.0" width="2" height="9.2" transform="rotate(135 279.7 285.6)"/><rect x="278.7" y="281.0" width="2" height="9.2" transform="rotate(180 279.7 285.6)"/><rect x="278.7" y="281.0" width="2" height="9.2" transform="rotate(225 279.7 285.6)"/><rect x="278.7" y="281.0" width="2" height="9.2" transform="rotate(270 279.7 285.6)"/><rect x="278.7" y="281.0" width="2" height="9.2" transform="rotate(315 279.7 285.6)"/><circle cx="279.7" cy="285.6" r="3.5"/><rect x="272.7" y="288.2" width="1.4" height="6" transform="rotate(0 273.4 291.2)"/><rect x="272.7" y="288.2" width="1.4" height="6" transform="rotate(30 273.4 291.2)"/><rect x="272.7" y="288.2" width="1.4" height="6" transform="rotate(60 273.4 291.2)"/><rect x="272.7" y="288.2" width="1.4" height="6" transform="rotate(90 273.4 291.2)"/><rect x="272.7" y="288.2" width="1.4" height="6" transform="rotate(120 273.4 291.2)"/><rect x="272.7" y="288.2" width="1.4" height="6" transform="rotate(150 273.4 291.2)"/><circle cx="273.4" cy="291.2" r="2.2"/></g><circle cx="279.7" cy="285.6" r="1.6" fill="#fff"/><circle cx="273.4" cy="291.2" r="0.9" fill="#fff"/><path d="M290.5,284.2 H300.5 M293.8,284 V282.5 H297.2 V284" fill="none" stroke="#c4c4c4" stroke-width="1.2"/><path d="M291.7,285.5 V292.5 H299.3 V285.5" fill="none" stroke="#c4c4c4" stroke-width="1.2"/><path d="M294.1,286.5 V291 M295.5,286.5 V291 M296.9,286.5 V291" stroke="#c4c4c4" stroke-width="0.8"/><path d="M314.3,283.3 H309.5 V292 H318.3 V287.5" fill="none" stroke="#c4c4c4" stroke-width="1.3"/><path d="M312.8,288.8 L319.3,282.3" stroke="#c4c4c4" stroke-width="1.5"/><path d="M315.8,281 H321.0 V286.2Z" fill="#c4c4c4"/><g fill="#c4c4c4"><rect x="430.7" y="281.0" width="2" height="9.2" transform="rotate(0 431.7 285.6)"/><rect x="430.7" y="281.0" width="2" height="9.2" transform="rotate(45 431.7 285.6)"/><rect x="430.7" y="281.0" width="2" height="9.2" transform="rotate(90 431.7 285.6)"/><rect x="430.7" y="281.0" width="2" height="9.2" transform="rotate(135 431.7 285.6)"/><rect x="430.7" y="281.0" width="2" height="9.2" transform="rotate(180 431.7 285.6)"/><rect x="430.7" y="281.0" width="2" height="9.2" transform="rotate(225 431.7 285.6)"/><rect x="430.7" y="281.0" width="2" height="9.2" transform="rotate(270 431.7 285.6)"/><rect x="430.7" y="281.0" width="2" height="9.2" transform="rotate(315 431.7 285.6)"/><circle cx="431.7" cy="285.6" r="3.5"/><rect x="424.7" y="288.2" width="1.4" height="6" transform="rotate(0 425.4 291.2)"/><rect x="424.7" y="288.2" width="1.4" height="6" transform="rotate(30 425.4 291.2)"/><rect x="424.7" y="288.2" width="1.4" height="6" transform="rotate(60 425.4 291.2)"/><rect x="424.7" y="288.2" width="1.4" height="6" transform="rotate(90 425.4 291.2)"/><rect x="424.7" y="288.2" width="1.4" height="6" transform="rotate(120 425.4 291.2)"/><rect x="424.7" y="288.2" width="1.4" height="6" transform="rotate(150 425.4 291.2)"/><circle cx="425.4" cy="291.2" r="2.2"/></g><circle cx="431.7" cy="285.6" r="1.6" fill="#fff"/><circle cx="425.4" cy="291.2" r="0.9" fill="#fff"/><path d="M442.5,284.2 H452.5 M445.8,284 V282.5 H449.2 V284" fill="none" stroke="#c4c4c4" stroke-width="1.2"/><path d="M443.7,285.5 V292.5 H451.3 V285.5" fill="none" stroke="#c4c4c4" stroke-width="1.2"/><path d="M446.1,286.5 V291 M447.5,286.5 V291 M448.9,286.5 V291" stroke="#c4c4c4" stroke-width="0.8"/><path d="M466.3,283.3 H461.5 V292 H470.3 V287.5" fill="none" stroke="#c4c4c4" stroke-width="1.3"/><path d="M464.8,288.8 L471.3,282.3" stroke="#c4c4c4" stroke-width="1.5"/><path d="M467.8,281 H473.0 V286.2Z" fill="#c4c4c4"/></svg>
</body></html>
